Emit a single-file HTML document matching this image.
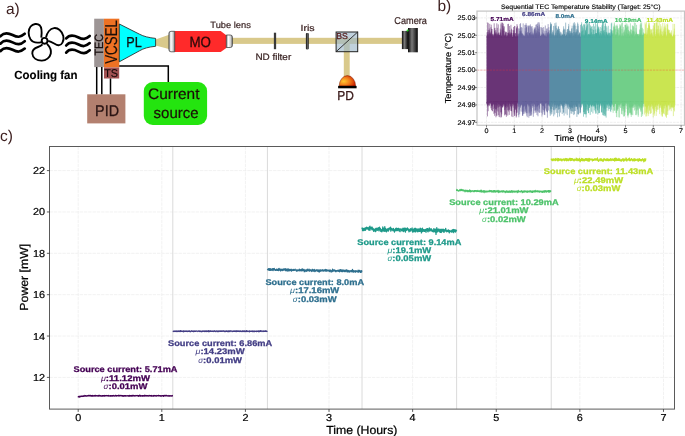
<!DOCTYPE html>
<html><head><meta charset="utf-8"><title>figure</title>
<style>html,body{margin:0;padding:0;background:#fff;overflow:hidden;width:685px;height:436px}svg{display:block;will-change:transform}text{font-family:"Liberation Sans",sans-serif;text-rendering:geometricPrecision}</style>
</head><body>
<svg width="685" height="436" viewBox="0 0 685 436">
<defs>
<linearGradient id="silv" x1="0" y1="0" x2="1" y2="0"><stop offset="0" stop-color="#8c8c8c"/><stop offset="0.35" stop-color="#ffffff"/><stop offset="0.7" stop-color="#d2d2d2"/><stop offset="1" stop-color="#7a7a7a"/></linearGradient>
<linearGradient id="cam" x1="0" y1="0" x2="1" y2="0"><stop offset="0" stop-color="#080808"/><stop offset="0.4" stop-color="#7a7a7a"/><stop offset="1" stop-color="#050505"/></linearGradient>
<linearGradient id="bar" x1="0" y1="0" x2="1" y2="0"><stop offset="0" stop-color="#000"/><stop offset="0.5" stop-color="#6a6a6a"/><stop offset="1" stop-color="#000"/></linearGradient>
<radialGradient id="pd" cx="0.28" cy="0.55" r="0.85"><stop offset="0" stop-color="#ffc830"/><stop offset="0.45" stop-color="#f07a18"/><stop offset="0.9" stop-color="#c81a00"/></radialGradient>
</defs>
<rect width="685" height="436" fill="#fff"/>
<text x="6.00" y="13.80" font-size="15.50" fill="#3b1d1d">a)</text>
<path d="M0.5,36.2 C3.4,32.8 7.8,32.6 12.6,35.0 S20.3,37.6 24.7,33.8" fill="none" stroke="#000" stroke-width="2.7" stroke-linecap="round"/>
<path d="M66.2,38.4 C69.0,35.0 73.2,34.8 78.0,37.2 S85.5,39.8 89.7,36.0" fill="none" stroke="#000" stroke-width="2.7" stroke-linecap="round"/>
<path d="M0.5,43.6 C3.4,40.2 7.8,40.0 12.6,42.4 S20.3,45.0 24.7,41.2" fill="none" stroke="#000" stroke-width="2.7" stroke-linecap="round"/>
<path d="M66.2,45.5 C69.0,42.1 73.2,41.9 78.0,44.3 S85.5,46.9 89.7,43.1" fill="none" stroke="#000" stroke-width="2.7" stroke-linecap="round"/>
<path d="M0.5,51.0 C3.4,47.6 7.8,47.4 12.6,49.8 S20.3,52.4 24.7,48.6" fill="none" stroke="#000" stroke-width="2.7" stroke-linecap="round"/>
<path d="M66.2,52.6 C69.0,49.2 73.2,49.0 78.0,51.4 S85.5,54.0 89.7,50.2" fill="none" stroke="#000" stroke-width="2.7" stroke-linecap="round"/>
<g fill="none" stroke="#000" stroke-width="1.9" stroke-linejoin="round">
<path d="M41.3,37.6 C41.9,33 41.9,27.5 39.6,25.2 C37.5,23.2 33,23.6 30.6,26.5 C28.1,29.5 27.9,35 30.5,39.3 C32.5,42.4 37,43.2 41.6,42.1"/>
<path d="M46,37.4 C47,33 50,28.6 54,28.1 C58,27.6 62,31 63.3,36 C64.5,41 61.5,45.5 58.5,45.3 C55.5,45 53,42 48.2,40.8"/>
<path d="M47,43.9 C49.5,46.5 51.5,50 50.8,53.5 C50,57.5 46,60.8 41.5,60.6 C37,60.4 32.6,58 32.3,53.5 C32.1,50 35,48 38,47 C40,46.3 41.5,45.6 42.5,44.4"/>
<circle cx="44.6" cy="40.8" r="2.9" fill="#fff"/>
</g>
<text x="14.30" y="78.90" font-size="11.90" fill="#000" font-weight="bold" stroke="#000" stroke-width="0.12" textLength="63.20" lengthAdjust="spacingAndGlyphs">Cooling fan</text>
<polygon points="155.6,39.6 169.8,34.4 169.8,49.3 155.6,45.4" fill="#d9c98b"/>
<rect x="232" y="37.8" width="170.5" height="6.1" fill="#d9c98b"/>
<rect x="343.8" y="41" width="5.9" height="36" fill="#d9c98b"/>
<rect x="94.2" y="18.7" width="9.7" height="48.4" fill="#9d9595"/>
<rect x="103.9" y="18.7" width="15.4" height="48.8" fill="#ee7224"/>
<rect x="104" y="67.5" width="15.2" height="11" fill="#a15253"/>
<text x="103.20" y="55.40" font-size="12.00" fill="#1a1010" stroke="#1a1010" stroke-width="0.30" textLength="21.40" lengthAdjust="spacingAndGlyphs" transform="rotate(-90 103.20 55.40)">TEC</text>
<text x="117.20" y="63.80" font-size="17.20" fill="#1a0e08" stroke="#1a0e08" stroke-width="0.15" textLength="43.80" lengthAdjust="spacingAndGlyphs" transform="rotate(-90 117.20 63.80)">VCSEL</text>
<text x="104.20" y="76.70" font-size="11.30" fill="#140808" stroke="#140808" stroke-width="0.12" textLength="13.80" lengthAdjust="spacingAndGlyphs">TS</text>
<g stroke="#000" stroke-width="1.5" fill="none">
<path d="M96.7,67 V94.5 M101.8,67 V94.5 M110.5,78.5 V94.5"/>
<path d="M119.2,66.1 H168.3 V82.2"/>
</g>
<path d="M119.3,24 L139.5,34.2 Q145.5,37.4 155.6,38.4 L155.6,46.3 Q145.5,47.2 139.5,50.8 L119.3,61.8 Z" fill="#00ffff" stroke="#1a1a1a" stroke-width="0.8" stroke-linejoin="round"/>
<text x="126.20" y="46.90" font-size="14.40" fill="#111" stroke="#111" stroke-width="0.30" textLength="15.50" lengthAdjust="spacingAndGlyphs">PL</text>
<rect x="87.2" y="94.3" width="38.2" height="29.1" fill="#b3806f"/>
<text x="95.10" y="115.60" font-size="15.50" fill="#2a1414" stroke="#2a1414" stroke-width="0.30" textLength="23.90" lengthAdjust="spacingAndGlyphs">PID</text>
<rect x="143.8" y="82" width="63.3" height="43" rx="9" ry="9" fill="#24e40f"/>
<text x="148.00" y="99.20" font-size="15.20" fill="#1c0e08" stroke="#1c0e08" stroke-width="0.20" textLength="51.50" lengthAdjust="spacingAndGlyphs">Current</text>
<text x="153.60" y="117.60" font-size="15.20" fill="#1c0e08" stroke="#1c0e08" stroke-width="0.20" textLength="45.00" lengthAdjust="spacingAndGlyphs">source</text>
<path d="M174.7,31 H220.7 L226.3,35.2 V48 L220.7,52.1 H174.7 Z" fill="#ff2a2a"/>
<path d="M171,31.3 H174.7 V51.8 H171 Q168.9,51.8 168.9,49.7 V33.4 Q168.9,31.3 171,31.3 Z" fill="url(#silv)" stroke="#333" stroke-width="0.7"/>
<path d="M226.3,35 H230.3 Q232.4,35 232.4,37.1 V45.4 Q232.4,47.5 230.3,47.5 H226.3 Z" fill="url(#silv)" stroke="#333" stroke-width="0.7"/>
<text x="189.40" y="47.30" font-size="14.80" fill="#2a0a0a" stroke="#2a0a0a" stroke-width="0.30" textLength="21.50" lengthAdjust="spacingAndGlyphs">MO</text>
<text x="210.30" y="27.90" font-size="9.00" fill="#3a2424" stroke="#3a2424" stroke-width="0.20" textLength="40.60" lengthAdjust="spacingAndGlyphs">Tube lens</text>
<rect x="273.9" y="32.7" width="2.2" height="16.5" fill="url(#bar)"/>
<text x="255.40" y="60.20" font-size="9.30" fill="#3a2424" stroke="#3a2424" stroke-width="0.20" textLength="35.80" lengthAdjust="spacingAndGlyphs">ND filter</text>
<rect x="305.9" y="33.1" width="2.8" height="16.3" rx="0.8" fill="url(#bar)"/>
<text x="300.50" y="30.50" font-size="8.90" fill="#3a2020" stroke="#3a2020" stroke-width="0.20" textLength="14.20" lengthAdjust="spacingAndGlyphs">Iris</text>
<rect x="336.1" y="32" width="21.6" height="19.7" fill="#9fb9cc" fill-opacity="0.66" stroke="#222" stroke-width="1.0"/>
<path d="M336.1,51.7 L357.7,32" stroke="#222" stroke-width="0.9"/>
<text x="336.30" y="39.30" font-size="8.60" fill="#5a2222" stroke="#5a2222" stroke-width="0.30" textLength="11.60" lengthAdjust="spacingAndGlyphs">BS</text>
<rect x="401.9" y="30.9" width="6.3" height="18.2" fill="url(#cam)"/>
<rect x="408" y="28" width="9.8" height="24.3" fill="url(#cam)"/>
<circle cx="407.6" cy="30.6" r="1.0" fill="#22dd22"/>
<text x="394.30" y="23.90" font-size="10.00" fill="#3a2424" stroke="#3a2424" stroke-width="0.20" textLength="32.60" lengthAdjust="spacingAndGlyphs">Camera</text>
<path d="M339.2,86 A8.2,10.4 0 0 1 355.6,86 Z" fill="url(#pd)" stroke="#7a1a00" stroke-width="0.5"/>
<rect x="338.1" y="85.9" width="18.5" height="2.4" fill="#000"/>
<text x="337.20" y="100.20" font-size="13.00" fill="#3a1a1a" stroke="#3a1a1a" stroke-width="0.30" textLength="16.60" lengthAdjust="spacingAndGlyphs">PD</text>
<text x="437.40" y="10.60" font-size="15.50" fill="#3b1d1d">b)</text>
<path d="M486.50,11.10V125.30M514.30,11.10V125.30M542.10,11.10V125.30M569.90,11.10V125.30M597.70,11.10V125.30M625.50,11.10V125.30M653.30,11.10V125.30M681.10,11.10V125.30M477.00,122.30H684.50M477.00,104.90H684.50M477.00,87.50H684.50M477.00,70.10H684.50M477.00,52.70H684.50M477.00,35.30H684.50M477.00,17.90H684.50" stroke="#e2e2e2" stroke-opacity="1" stroke-width="0.6" stroke-dasharray="2.6,0.9" fill="none"/>
<polygon points="486.50,36.5 487.00,34.7 487.50,34.1 488.00,36.8 488.50,36.4 489.00,31.8 489.50,36.7 490.00,36.5 490.49,31.7 490.99,34.0 491.49,35.4 491.99,34.6 492.49,33.7 492.99,35.9 493.49,36.5 493.99,32.9 494.49,33.7 494.99,34.6 495.49,32.7 495.99,34.4 496.49,31.4 496.99,36.2 497.48,34.4 497.98,34.8 498.48,35.5 498.98,34.2 499.48,36.1 499.98,32.8 500.48,32.3 500.98,36.5 501.48,34.9 501.98,35.9 502.48,36.6 502.98,32.1 503.48,35.1 503.98,36.4 504.48,33.6 504.97,36.2 505.47,32.0 505.97,36.2 506.47,36.8 506.97,36.2 507.47,35.6 507.97,34.9 508.47,32.0 508.97,33.5 509.47,35.6 509.97,36.8 510.47,36.4 510.97,31.3 511.47,34.9 511.96,33.5 512.46,36.7 512.96,36.8 513.46,32.4 513.96,34.2 514.46,35.7 514.96,35.7 515.46,36.6 515.96,36.3 516.46,36.8 516.96,32.5 517.46,34.9 517.96,36.5 518.46,33.2 518.46,104.3 517.96,103.9 517.46,103.1 516.96,104.1 516.46,105.8 515.96,103.9 515.46,105.7 514.96,105.2 514.46,103.1 513.96,102.9 513.46,103.5 512.96,105.6 512.46,103.0 511.96,104.9 511.47,103.2 510.97,105.7 510.47,107.3 509.97,102.9 509.47,104.1 508.97,103.6 508.47,103.2 507.97,108.3 507.47,103.2 506.97,104.1 506.47,102.9 505.97,106.5 505.47,107.5 504.97,106.7 504.48,104.6 503.98,103.2 503.48,105.7 502.98,103.2 502.48,107.7 501.98,106.7 501.48,106.1 500.98,105.9 500.48,105.2 499.98,106.4 499.48,107.1 498.98,103.6 498.48,104.3 497.98,102.9 497.48,102.9 496.99,106.5 496.49,103.9 495.99,104.5 495.49,104.0 494.99,107.9 494.49,108.1 493.99,103.6 493.49,103.9 492.99,103.4 492.49,107.2 491.99,104.8 491.49,106.3 490.99,103.8 490.49,102.8 490.00,103.0 489.50,103.3 489.00,106.9 488.50,102.8 488.00,107.5 487.50,105.5 487.00,102.9 486.50,103.4" fill="#693476"/>
<path d="M514.96,37.8V33.3M490.37,37.8V35.2M489.46,37.8V30.3M504.13,37.8V35.6M516.53,37.8V28.8M514.79,37.8V26.0M508.41,37.8V23.8M488.86,37.8V32.2M511.68,37.8V35.4M507.89,37.8V24.0M491.24,37.8V24.7M501.15,37.8V22.6M488.32,37.8V30.0M511.54,37.8V28.7M508.97,37.8V33.2M511.63,37.8V35.0M510.26,37.8V34.1M495.05,37.8V27.8M511.17,37.8V33.7M494.49,37.8V28.3M491.05,37.8V31.5M498.85,37.8V32.2M502.16,37.8V22.6M495.62,37.8V35.1M505.49,37.8V31.7M505.39,37.8V35.2M494.20,37.8V23.3M506.01,37.8V31.7M497.82,37.8V33.7M509.47,37.8V35.1M495.76,37.8V30.0M511.45,37.8V32.9M499.61,37.8V35.4M503.87,37.8V35.8M507.58,37.8V33.0M502.79,37.8V30.2M494.75,37.8V31.2M517.02,37.8V24.1M489.76,37.8V23.8M496.83,37.8V23.3M503.74,37.8V26.2M487.69,37.8V31.8M491.58,37.8V31.1M511.46,37.8V32.9M510.99,37.8V32.9M506.45,37.8V35.7M514.63,37.8V26.2M510.11,37.8V34.5M496.02,37.8V35.8M506.70,37.8V32.0M497.29,37.8V27.8M509.94,37.8V32.4M498.67,37.8V33.3M491.53,37.8V28.9M513.84,37.8V35.2M508.10,37.8V35.8M509.78,37.8V30.1M504.07,37.8V31.0M510.96,37.8V24.8M500.62,37.8V32.6M504.26,37.8V26.5M488.73,37.8V35.8M503.93,37.8V35.8M511.94,37.8V29.9M508.57,37.8V34.7M511.58,37.8V35.7M502.11,37.8V35.4M513.99,37.8V33.2M490.14,37.8V33.6M513.82,37.8V30.5M498.26,37.8V24.4M489.61,37.8V33.3M505.91,37.8V35.0M500.84,37.8V30.3M500.02,37.8V35.8M513.09,37.8V33.0M491.05,37.8V33.8M505.84,37.8V33.0M499.57,37.8V35.7M503.10,37.8V30.7M502.21,37.8V29.5M490.94,37.8V27.2M502.60,37.8V22.8M513.40,37.8V33.4M492.08,37.8V29.0M487.15,37.8V32.3M488.88,37.8V34.8M500.99,37.8V24.3M516.87,37.8V27.3M488.16,37.8V23.1M517.38,37.8V25.8M503.34,37.8V23.7M490.51,37.8V35.4M499.71,37.8V35.8M493.20,37.8V34.9M508.84,37.8V32.7M503.51,37.8V28.4M495.69,37.8V32.4M494.68,37.8V31.3M513.55,37.8V27.0M510.44,37.8V35.6M500.26,37.8V28.6M499.31,37.8V35.7M509.56,37.8V34.5M516.75,37.8V27.7M489.26,37.8V28.5M491.71,37.8V32.8M497.98,37.8V34.0M502.47,37.8V25.6M489.00,37.8V34.2M488.45,37.8V35.8M493.57,37.8V34.5M498.71,37.8V35.8M509.61,37.8V26.0M505.62,37.8V35.4M487.70,37.8V22.4M488.19,37.8V34.8M500.75,37.8V33.9M513.79,37.8V30.2M515.03,37.8V33.9M498.07,37.8V33.1M514.18,37.8V35.5M515.47,37.8V33.0M499.35,37.8V35.8M509.82,37.8V34.7M514.86,101.8V115.6M495.46,101.8V109.4M495.16,101.8V113.1M507.76,101.8V115.6M514.04,101.8V105.9M495.93,101.8V117.3M498.41,101.8V107.4M508.85,101.8V104.4M511.24,101.8V108.6M505.74,101.8V109.6M492.32,101.8V111.3M492.38,101.8V110.9M510.19,101.8V103.9M508.61,101.8V110.3M514.46,101.8V116.0M510.86,101.8V110.9M499.80,101.8V117.2M490.91,101.8V108.3M514.28,101.8V113.6M508.26,101.8V104.3M504.58,101.8V115.4M507.84,101.8V107.2M498.68,101.8V115.0M497.39,101.8V105.8M504.56,101.8V110.1M501.70,101.8V114.3M508.68,101.8V111.6M515.68,101.8V110.0M512.94,101.8V117.1M498.76,101.8V104.0M498.29,101.8V104.1M515.40,101.8V108.9M498.98,101.8V116.7M511.49,101.8V111.2M489.66,101.8V105.7M500.72,101.8V104.1M502.73,101.8V107.4M511.76,101.8V107.8M513.88,101.8V107.7M491.51,101.8V110.0M505.84,101.8V105.3M506.21,101.8V115.1M491.48,101.8V105.5M512.52,101.8V104.1M503.88,101.8V106.1M516.47,101.8V116.3M492.55,101.8V104.4M503.00,101.8V105.4M496.78,101.8V116.1M506.62,101.8V106.1M505.56,101.8V114.3M502.61,101.8V103.9M496.82,101.8V115.3M502.35,101.8V105.0M498.29,101.8V104.6M514.29,101.8V112.2M501.04,101.8V117.6M501.46,101.8V116.8M494.78,101.8V112.4M494.63,101.8V115.8M516.23,101.8V117.5M496.49,101.8V108.9M513.59,101.8V104.3M505.15,101.8V114.4M517.05,101.8V106.7M491.86,101.8V105.7M515.85,101.8V108.1M510.64,101.8V103.8M504.33,101.8V103.8M508.67,101.8V105.3M509.09,101.8V109.6M500.64,101.8V112.4M506.38,101.8V116.8M493.85,101.8V113.8M487.46,101.8V116.4M507.67,101.8V110.3M501.44,101.8V112.1M514.74,101.8V109.5M494.95,101.8V104.0M512.04,101.8V103.9M517.23,101.8V112.6M514.51,101.8V104.7M516.56,101.8V113.2M491.71,101.8V107.6M491.89,101.8V103.8M493.84,101.8V109.0M497.95,101.8V107.3M490.36,101.8V104.0M491.45,101.8V105.2M487.37,101.8V105.7M515.60,101.8V106.1M497.94,101.8V111.6M506.12,101.8V104.5M500.83,101.8V107.3M509.73,101.8V109.8M511.67,101.8V116.5M498.62,101.8V104.2M503.32,101.8V104.0M489.81,101.8V104.6M495.61,101.8V104.9M493.67,101.8V104.4M496.32,101.8V104.0M496.81,101.8V104.8M504.54,101.8V104.9M497.07,101.8V107.8M496.89,101.8V110.5M512.45,101.8V106.3M487.17,101.8V104.5M486.96,101.8V104.1M488.56,101.8V105.2M513.51,101.8V104.5M506.35,101.8V107.8M509.26,101.8V114.9M516.35,101.8V111.7M493.53,101.8V104.7M515.19,101.8V103.8M494.29,101.8V103.9M502.81,101.8V107.2M507.81,101.8V106.3M511.40,101.8V111.1M494.46,101.8V104.0M501.52,101.8V105.2M488.21,101.8V111.2M495.68,101.8V109.2M517.07,101.8V108.4" stroke="#693476" stroke-width="0.55" fill="none"/>
<polygon points="517.96,32.0 518.46,36.5 518.95,36.2 519.45,34.3 519.95,34.3 520.45,31.5 520.95,31.5 521.45,34.2 521.95,33.1 522.45,33.5 522.95,36.5 523.45,34.1 523.95,35.8 524.45,35.5 524.95,36.4 525.45,36.8 525.94,32.4 526.44,33.3 526.94,33.1 527.44,35.8 527.94,35.2 528.44,36.3 528.94,34.1 529.44,32.5 529.94,32.9 530.44,31.8 530.94,36.0 531.44,33.5 531.94,36.5 532.44,34.5 532.93,36.5 533.43,34.5 533.93,34.5 534.43,35.6 534.93,35.5 535.43,33.4 535.93,34.8 536.43,35.2 536.93,36.5 537.43,35.9 537.93,32.4 538.43,31.5 538.93,35.4 539.43,32.3 539.93,32.2 540.42,36.1 540.92,35.9 541.42,33.5 541.92,35.8 542.42,31.6 542.92,35.5 543.42,33.3 543.92,33.4 544.42,36.2 544.92,32.3 545.42,35.6 545.92,36.5 546.42,36.7 546.92,35.0 547.41,33.9 547.91,35.9 548.41,32.5 548.91,35.9 549.41,32.4 549.91,36.8 549.91,103.5 549.41,106.4 548.91,103.7 548.41,106.6 547.91,104.3 547.41,103.0 546.92,102.9 546.42,103.0 545.92,104.4 545.42,103.0 544.92,104.3 544.42,103.0 543.92,107.0 543.42,105.4 542.92,105.4 542.42,105.7 541.92,103.6 541.42,103.3 540.92,102.9 540.42,103.1 539.93,103.1 539.43,104.3 538.93,105.4 538.43,104.0 537.93,105.3 537.43,106.5 536.93,107.6 536.43,103.1 535.93,105.3 535.43,106.9 534.93,105.1 534.43,103.4 533.93,106.6 533.43,103.8 532.93,102.8 532.44,106.3 531.94,106.0 531.44,102.9 530.94,104.2 530.44,103.5 529.94,105.1 529.44,106.9 528.94,103.6 528.44,107.4 527.94,104.5 527.44,103.5 526.94,106.8 526.44,106.6 525.94,107.6 525.45,103.7 524.95,104.5 524.45,105.6 523.95,107.7 523.45,106.4 522.95,104.9 522.45,106.9 521.95,104.3 521.45,105.5 520.95,105.4 520.45,107.2 519.95,104.3 519.45,104.1 518.95,104.6 518.46,103.2 517.96,103.6" fill="#69659d"/>
<path d="M527.12,37.8V35.8M532.80,37.8V34.5M520.57,37.8V23.1M532.11,37.8V26.1M536.26,37.8V32.5M543.70,37.8V27.0M519.99,37.8V24.0M542.94,37.8V34.0M535.83,37.8V24.7M536.10,37.8V34.3M519.83,37.8V33.7M545.41,37.8V35.7M526.81,37.8V35.2M535.12,37.8V30.7M534.88,37.8V35.8M546.34,37.8V30.8M536.81,37.8V35.1M548.84,37.8V27.2M525.42,37.8V35.4M538.69,37.8V34.8M536.05,37.8V34.3M534.10,37.8V30.2M537.62,37.8V26.0M535.24,37.8V27.2M528.65,37.8V27.4M538.05,37.8V28.5M520.83,37.8V30.8M533.04,37.8V33.5M532.23,37.8V35.0M524.84,37.8V24.9M535.78,37.8V32.7M538.93,37.8V29.1M522.11,37.8V35.7M527.42,37.8V33.3M520.17,37.8V35.5M536.68,37.8V33.4M520.78,37.8V27.5M525.33,37.8V33.6M532.07,37.8V28.5M532.19,37.8V35.4M519.27,37.8V33.0M547.49,37.8V32.7M525.35,37.8V31.4M537.08,37.8V34.7M525.11,37.8V28.2M536.64,37.8V24.5M529.14,37.8V26.0M528.09,37.8V35.8M532.89,37.8V31.7M536.35,37.8V33.5M536.71,37.8V30.4M539.50,37.8V35.6M526.54,37.8V27.6M521.08,37.8V32.6M526.07,37.8V23.1M528.34,37.8V35.8M537.00,37.8V32.6M531.04,37.8V31.7M527.86,37.8V25.6M521.29,37.8V27.1M536.67,37.8V35.0M521.65,37.8V33.9M534.20,37.8V27.5M539.50,37.8V32.6M537.48,37.8V34.4M523.18,37.8V23.4M529.24,37.8V25.3M547.29,37.8V33.4M521.06,37.8V30.7M539.20,37.8V23.4M531.72,37.8V34.8M537.19,37.8V23.9M530.40,37.8V24.4M522.08,37.8V27.7M535.61,37.8V28.4M518.44,37.8V28.4M544.92,37.8V30.8M542.90,37.8V30.2M529.79,37.8V34.9M534.84,37.8V30.5M534.53,37.8V28.7M548.48,37.8V31.7M519.60,37.8V28.5M527.44,37.8V32.1M530.81,37.8V26.1M542.55,37.8V27.8M540.78,37.8V35.6M531.32,37.8V26.8M518.62,37.8V34.1M538.25,37.8V35.6M530.81,37.8V35.4M521.86,37.8V33.7M537.73,37.8V31.1M531.98,37.8V33.7M527.71,37.8V34.9M526.56,37.8V26.8M534.33,37.8V33.2M525.90,37.8V24.7M530.39,37.8V34.5M547.32,37.8V28.4M533.00,37.8V33.4M526.08,37.8V25.2M534.34,37.8V29.1M546.56,37.8V28.6M544.98,37.8V35.6M539.15,37.8V27.2M546.00,37.8V33.4M541.60,37.8V27.4M539.24,37.8V25.3M531.46,37.8V35.4M522.87,37.8V35.8M540.84,37.8V27.1M537.83,37.8V22.5M548.12,37.8V24.1M528.16,37.8V32.4M545.31,37.8V25.5M525.00,37.8V35.8M547.45,37.8V35.7M548.98,37.8V30.2M519.71,37.8V31.1M528.27,37.8V25.7M549.06,37.8V34.6M548.13,37.8V32.0M538.95,37.8V22.0M522.41,37.8V34.0M530.74,101.8V115.9M537.00,101.8V115.1M548.96,101.8V104.2M523.89,101.8V111.7M539.58,101.8V112.9M531.04,101.8V115.7M530.62,101.8V107.0M526.18,101.8V104.4M532.62,101.8V107.7M535.99,101.8V106.4M530.36,101.8V106.7M533.86,101.8V113.4M537.88,101.8V110.6M544.54,101.8V111.1M535.57,101.8V110.6M530.06,101.8V104.3M547.92,101.8V103.9M523.58,101.8V106.7M519.66,101.8V114.4M546.28,101.8V110.5M526.46,101.8V113.2M522.93,101.8V110.1M530.14,101.8V113.1M528.84,101.8V117.7M529.20,101.8V111.7M544.52,101.8V114.7M527.22,101.8V117.2M522.35,101.8V112.2M524.91,101.8V113.6M547.56,101.8V104.0M531.49,101.8V103.9M529.39,101.8V116.0M542.24,101.8V105.0M547.12,101.8V105.7M534.00,101.8V104.3M543.39,101.8V110.3M526.42,101.8V103.8M529.07,101.8V113.4M536.04,101.8V105.6M525.55,101.8V112.3M526.75,101.8V115.7M524.04,101.8V111.3M526.35,101.8V107.1M544.15,101.8V110.1M542.78,101.8V114.5M521.77,101.8V111.6M529.02,101.8V105.1M540.54,101.8V103.8M544.78,101.8V115.1M535.54,101.8V110.1M540.68,101.8V103.9M525.58,101.8V108.9M542.38,101.8V109.5M543.58,101.8V105.5M530.81,101.8V115.2M525.53,101.8V105.0M519.28,101.8V104.3M537.68,101.8V105.7M537.77,101.8V106.0M518.29,101.8V115.2M534.31,101.8V110.7M547.21,101.8V104.2M519.15,101.8V106.7M522.50,101.8V104.1M520.04,101.8V111.5M531.73,101.8V114.5M530.13,101.8V104.0M545.11,101.8V108.1M520.31,101.8V105.1M524.44,101.8V105.5M547.20,101.8V112.3M518.84,101.8V117.3M526.25,101.8V105.4M530.42,101.8V108.8M518.27,101.8V105.7M527.12,101.8V103.9M536.86,101.8V109.7M537.24,101.8V104.4M537.04,101.8V111.2M538.34,101.8V112.3M537.22,101.8V104.3M519.32,101.8V109.6M538.46,101.8V104.8M536.27,101.8V112.6M524.97,101.8V105.5M531.20,101.8V111.2M525.59,101.8V110.5M545.04,101.8V109.3M526.86,101.8V104.8M523.28,101.8V114.1M542.84,101.8V106.2M541.74,101.8V112.8M544.55,101.8V107.7M539.16,101.8V107.4M531.12,101.8V111.7M532.93,101.8V106.0M535.39,101.8V112.6M536.65,101.8V107.3M547.42,101.8V112.2M526.45,101.8V111.4M541.97,101.8V116.5M518.78,101.8V106.9M524.13,101.8V106.1M547.40,101.8V117.7M526.00,101.8V108.4M534.02,101.8V107.0M546.53,101.8V111.4M538.45,101.8V105.1M533.33,101.8V116.8M539.91,101.8V112.5M548.44,101.8V110.5M547.30,101.8V105.5M523.85,101.8V113.6M522.58,101.8V115.9M527.14,101.8V113.2M522.73,101.8V115.8M541.83,101.8V104.0M543.98,101.8V112.2M522.60,101.8V114.8M520.51,101.8V107.8M528.25,101.8V104.0M539.45,101.8V108.8M542.02,101.8V105.1M532.47,101.8V103.8M537.97,101.8V116.3" stroke="#69659d" stroke-width="0.55" fill="none"/>
<polygon points="549.41,32.5 549.91,33.9 550.41,33.1 550.91,33.7 551.41,34.9 551.91,36.5 552.41,35.8 552.91,34.7 553.41,34.2 553.91,35.8 554.40,36.5 554.90,35.6 555.40,36.3 555.90,31.8 556.40,36.1 556.90,35.3 557.40,34.5 557.90,36.0 558.40,34.7 558.90,34.4 559.40,36.7 559.90,31.7 560.40,34.5 560.90,36.4 561.39,31.4 561.89,36.3 562.39,33.3 562.89,34.8 563.39,36.0 563.89,35.4 564.39,34.8 564.89,35.4 565.39,36.0 565.89,35.2 566.39,35.1 566.89,33.5 567.39,36.2 567.89,36.7 568.39,32.5 568.88,36.7 569.38,33.9 569.88,34.4 570.38,31.5 570.88,36.3 571.38,32.1 571.88,36.5 572.38,36.3 572.88,33.8 573.38,36.4 573.88,34.2 574.38,33.6 574.88,36.5 575.38,32.8 575.87,35.2 576.37,31.6 576.87,36.8 577.37,36.6 577.87,34.0 578.37,36.0 578.87,35.3 579.37,32.0 579.87,35.6 580.37,36.7 580.87,36.4 581.37,34.4 581.37,107.7 580.87,107.2 580.37,103.2 579.87,104.3 579.37,102.9 578.87,106.4 578.37,102.9 577.87,104.5 577.37,103.5 576.87,106.5 576.37,106.9 575.87,107.3 575.38,104.3 574.88,104.7 574.38,104.0 573.88,104.4 573.38,107.5 572.88,102.8 572.38,108.0 571.88,103.8 571.38,106.4 570.88,107.7 570.38,106.6 569.88,106.8 569.38,107.6 568.88,104.2 568.39,104.5 567.89,107.8 567.39,103.5 566.89,104.6 566.39,103.7 565.89,103.6 565.39,103.1 564.89,103.0 564.39,105.7 563.89,104.3 563.39,108.2 562.89,106.0 562.39,106.5 561.89,104.6 561.39,104.5 560.90,106.9 560.40,103.2 559.90,104.5 559.40,106.4 558.90,105.8 558.40,106.0 557.90,104.6 557.40,107.1 556.90,103.6 556.40,107.9 555.90,108.1 555.40,102.8 554.90,104.6 554.40,105.7 553.91,103.1 553.41,104.4 552.91,107.6 552.41,103.4 551.91,103.5 551.41,103.1 550.91,103.5 550.41,104.7 549.91,106.5 549.41,106.6" fill="#588ca5"/>
<path d="M558.64,37.8V34.9M576.63,37.8V31.6M555.20,37.8V26.2M571.65,37.8V33.1M557.45,37.8V32.9M563.46,37.8V35.8M568.56,37.8V26.3M560.55,37.8V32.2M555.82,37.8V33.1M567.85,37.8V29.0M574.21,37.8V25.1M580.44,37.8V24.8M559.66,37.8V33.5M557.66,37.8V29.8M552.07,37.8V33.0M556.03,37.8V25.4M550.51,37.8V26.4M557.42,37.8V28.9M572.11,37.8V25.7M553.25,37.8V31.3M569.65,37.8V30.4M558.81,37.8V35.2M556.77,37.8V28.0M564.63,37.8V34.1M563.17,37.8V30.5M563.50,37.8V35.8M553.34,37.8V32.9M567.13,37.8V29.7M577.55,37.8V29.4M550.00,37.8V30.5M552.21,37.8V34.5M567.79,37.8V29.0M559.54,37.8V28.9M557.48,37.8V30.1M580.20,37.8V33.1M559.22,37.8V35.2M578.13,37.8V30.6M568.74,37.8V35.7M550.65,37.8V23.7M557.92,37.8V33.4M552.05,37.8V34.2M566.31,37.8V32.2M577.74,37.8V35.5M551.34,37.8V24.4M550.58,37.8V22.3M550.62,37.8V25.7M558.13,37.8V30.4M554.84,37.8V23.2M579.59,37.8V33.7M573.63,37.8V32.0M578.69,37.8V35.1M567.60,37.8V32.5M575.05,37.8V23.5M571.58,37.8V28.8M558.72,37.8V30.8M569.85,37.8V31.0M558.64,37.8V29.3M564.04,37.8V29.8M575.10,37.8V32.2M556.52,37.8V31.3M555.11,37.8V35.5M575.99,37.8V32.3M564.00,37.8V28.6M555.07,37.8V34.7M559.52,37.8V34.2M558.37,37.8V26.1M577.36,37.8V35.3M564.30,37.8V34.9M578.10,37.8V25.8M564.22,37.8V35.4M578.70,37.8V34.0M577.99,37.8V23.9M567.22,37.8V32.7M573.98,37.8V25.9M558.57,37.8V26.9M553.27,37.8V35.8M568.36,37.8V34.7M551.41,37.8V23.8M564.14,37.8V33.8M568.84,37.8V32.8M573.40,37.8V23.3M577.38,37.8V35.5M556.01,37.8V22.5M576.42,37.8V29.1M565.02,37.8V29.4M568.93,37.8V35.8M563.97,37.8V29.4M575.87,37.8V25.8M558.97,37.8V32.9M549.96,37.8V35.6M575.30,37.8V35.4M570.13,37.8V35.6M571.82,37.8V32.7M553.54,37.8V25.9M556.07,37.8V35.7M569.01,37.8V32.8M572.77,37.8V32.8M570.11,37.8V32.9M568.10,37.8V31.1M569.92,37.8V31.0M554.27,37.8V34.9M563.62,37.8V26.3M559.88,37.8V31.2M572.43,37.8V33.4M565.68,37.8V22.6M571.93,37.8V28.1M571.15,37.8V35.2M577.64,37.8V22.5M576.13,37.8V30.3M551.30,37.8V33.6M570.31,37.8V34.6M561.24,37.8V35.7M552.82,37.8V34.5M564.47,37.8V34.1M575.73,37.8V33.5M574.29,37.8V22.1M552.98,37.8V30.1M555.95,37.8V35.0M571.15,37.8V33.2M579.59,37.8V32.4M552.09,37.8V35.6M552.45,37.8V31.9M571.18,37.8V31.4M568.72,37.8V23.9M574.74,37.8V32.4M570.96,101.8V107.2M570.68,101.8V108.5M555.11,101.8V108.8M567.21,101.8V115.2M563.57,101.8V103.9M554.73,101.8V114.5M550.45,101.8V108.4M580.44,101.8V112.0M552.50,101.8V106.9M577.07,101.8V105.6M561.02,101.8V106.0M552.23,101.8V105.4M579.48,101.8V107.5M570.08,101.8V109.6M562.19,101.8V114.0M575.57,101.8V104.5M571.55,101.8V107.4M562.53,101.8V108.6M571.86,101.8V113.8M572.48,101.8V111.6M555.02,101.8V110.1M571.82,101.8V111.0M577.99,101.8V107.4M570.93,101.8V113.5M574.38,101.8V114.2M580.26,101.8V109.1M574.28,101.8V104.2M564.21,101.8V107.1M567.06,101.8V105.3M573.37,101.8V104.6M569.22,101.8V105.6M551.90,101.8V113.8M551.57,101.8V106.1M558.12,101.8V107.1M574.96,101.8V106.5M556.55,101.8V104.6M559.55,101.8V109.2M575.11,101.8V107.0M553.69,101.8V116.3M558.35,101.8V110.0M557.62,101.8V117.3M551.17,101.8V114.6M572.63,101.8V108.0M559.60,101.8V103.8M562.29,101.8V104.8M559.99,101.8V104.2M551.74,101.8V112.1M575.78,101.8V104.3M553.86,101.8V110.4M558.52,101.8V105.8M571.95,101.8V107.8M560.46,101.8V112.5M565.35,101.8V105.6M559.90,101.8V104.5M567.00,101.8V105.5M559.50,101.8V116.5M563.79,101.8V108.9M549.99,101.8V105.5M550.18,101.8V104.3M565.35,101.8V103.9M574.92,101.8V106.0M580.52,101.8V109.9M574.49,101.8V107.5M565.89,101.8V113.6M569.59,101.8V117.7M570.43,101.8V109.2M572.22,101.8V106.1M580.32,101.8V113.3M560.32,101.8V104.0M563.48,101.8V112.6M573.75,101.8V115.1M556.38,101.8V112.9M552.67,101.8V104.1M577.45,101.8V109.4M550.20,101.8V113.4M577.29,101.8V106.9M577.94,101.8V114.3M554.82,101.8V104.5M573.01,101.8V108.5M558.62,101.8V109.0M558.08,101.8V113.1M580.06,101.8V106.9M577.08,101.8V105.2M573.30,101.8V111.7M563.17,101.8V104.2M580.13,101.8V106.4M567.31,101.8V107.7M579.95,101.8V113.1M571.97,101.8V107.1M551.16,101.8V109.1M574.34,101.8V111.0M575.57,101.8V111.0M576.90,101.8V116.9M568.91,101.8V107.6M550.87,101.8V109.2M576.48,101.8V103.8M562.73,101.8V104.6M555.78,101.8V105.1M556.14,101.8V104.8M555.93,101.8V108.4M574.88,101.8V104.7M551.95,101.8V109.2M578.04,101.8V113.9M550.23,101.8V104.0M572.02,101.8V105.1M556.83,101.8V108.1M565.60,101.8V103.9M555.18,101.8V104.3M577.47,101.8V109.3M554.52,101.8V106.7M564.12,101.8V115.6M568.49,101.8V109.2M563.70,101.8V112.5M556.38,101.8V106.1M558.66,101.8V106.5M578.55,101.8V114.5M553.58,101.8V109.9M550.25,101.8V115.8M577.75,101.8V105.1M577.06,101.8V104.2M570.85,101.8V111.0M564.27,101.8V104.2M579.08,101.8V104.0M562.46,101.8V106.6M550.11,101.8V111.2" stroke="#588ca5" stroke-width="0.55" fill="none"/>
<polygon points="580.87,35.5 581.37,33.1 581.87,35.0 582.37,35.9 582.86,34.5 583.36,34.1 583.86,36.4 584.36,34.2 584.86,36.3 585.36,31.5 585.86,34.5 586.36,36.2 586.86,36.7 587.36,36.2 587.86,35.7 588.36,34.3 588.86,33.7 589.36,33.4 589.85,35.1 590.35,33.9 590.85,34.4 591.35,35.8 591.85,36.1 592.35,35.3 592.85,33.5 593.35,36.5 593.85,33.9 594.35,36.8 594.85,36.3 595.35,33.7 595.85,32.7 596.35,33.0 596.84,33.6 597.34,36.0 597.84,31.4 598.34,34.1 598.84,32.0 599.34,31.8 599.84,36.1 600.34,31.5 600.84,36.6 601.34,33.9 601.84,36.0 602.34,36.6 602.84,34.3 603.34,36.2 603.84,32.9 604.33,34.9 604.83,35.9 605.33,36.8 605.83,33.5 606.33,33.9 606.83,32.7 607.33,35.4 607.83,31.9 608.33,36.8 608.83,31.9 609.33,33.0 609.83,36.6 610.33,31.4 610.83,36.6 611.32,33.1 611.82,36.0 612.32,33.5 612.82,32.5 612.82,102.9 612.32,106.0 611.82,102.8 611.32,103.6 610.83,104.0 610.33,103.4 609.83,106.5 609.33,105.5 608.83,103.1 608.33,103.6 607.83,106.8 607.33,103.7 606.83,105.1 606.33,104.0 605.83,102.9 605.33,103.5 604.83,106.6 604.33,108.1 603.84,105.8 603.34,104.2 602.84,103.5 602.34,106.4 601.84,106.1 601.34,105.3 600.84,103.1 600.34,104.6 599.84,103.9 599.34,107.7 598.84,103.8 598.34,103.3 597.84,105.3 597.34,105.0 596.84,103.3 596.35,102.8 595.85,108.1 595.35,102.9 594.85,106.1 594.35,105.5 593.85,106.4 593.35,103.0 592.85,107.4 592.35,104.5 591.85,106.3 591.35,106.7 590.85,106.6 590.35,102.8 589.85,105.1 589.36,106.5 588.86,106.0 588.36,105.8 587.86,104.6 587.36,104.8 586.86,104.1 586.36,103.0 585.86,104.6 585.36,106.7 584.86,104.1 584.36,103.0 583.86,103.1 583.36,103.0 582.86,103.2 582.37,104.8 581.87,107.5 581.37,103.9 580.87,103.1" fill="#4caea1"/>
<path d="M600.05,37.8V33.9M600.52,37.8V33.0M597.53,37.8V23.0M582.48,37.8V25.7M582.32,37.8V27.3M597.06,37.8V24.3M596.30,37.8V33.1M581.64,37.8V22.2M581.50,37.8V23.9M605.03,37.8V35.0M591.18,37.8V33.1M603.29,37.8V33.9M587.29,37.8V34.9M589.36,37.8V23.3M608.88,37.8V33.0M587.27,37.8V24.8M593.76,37.8V30.0M596.55,37.8V35.7M603.13,37.8V32.4M591.06,37.8V26.6M601.20,37.8V33.8M588.02,37.8V34.1M602.19,37.8V35.6M581.82,37.8V31.9M586.93,37.8V23.1M583.05,37.8V35.8M584.31,37.8V24.4M604.25,37.8V29.9M595.49,37.8V34.2M605.34,37.8V24.1M611.25,37.8V23.5M586.91,37.8V22.4M604.89,37.8V32.0M611.16,37.8V32.7M590.71,37.8V28.8M583.55,37.8V24.3M595.42,37.8V33.5M597.91,37.8V33.7M602.40,37.8V32.7M598.78,37.8V35.8M590.48,37.8V25.4M586.18,37.8V32.1M591.66,37.8V32.0M595.63,37.8V29.4M586.89,37.8V26.0M590.38,37.8V28.1M608.45,37.8V33.6M594.23,37.8V34.0M585.03,37.8V33.6M601.70,37.8V31.0M592.12,37.8V26.0M597.06,37.8V35.8M593.28,37.8V29.8M584.71,37.8V25.3M603.91,37.8V30.6M598.72,37.8V33.1M611.68,37.8V31.9M581.31,37.8V31.3M598.98,37.8V29.5M594.30,37.8V35.6M594.58,37.8V26.4M603.46,37.8V30.7M588.65,37.8V34.2M593.51,37.8V23.8M585.28,37.8V32.9M598.65,37.8V26.7M594.66,37.8V34.0M582.48,37.8V30.8M588.27,37.8V35.0M593.37,37.8V34.3M597.58,37.8V33.7M584.03,37.8V35.3M600.28,37.8V27.0M606.40,37.8V32.2M591.44,37.8V33.5M583.23,37.8V30.2M585.69,37.8V34.6M604.71,37.8V32.4M597.59,37.8V30.5M585.37,37.8V29.7M586.35,37.8V32.6M606.87,37.8V27.4M602.13,37.8V24.8M602.63,37.8V22.7M585.50,37.8V30.6M611.73,37.8V22.6M589.00,37.8V23.2M592.09,37.8V29.0M588.39,37.8V35.3M610.25,37.8V29.2M600.66,37.8V31.0M598.24,37.8V28.1M593.95,37.8V34.3M603.29,37.8V22.0M595.63,37.8V33.5M595.41,37.8V21.8M585.85,37.8V34.2M606.58,37.8V31.8M583.21,37.8V28.5M609.17,37.8V34.4M609.44,37.8V32.8M597.32,37.8V28.9M586.21,37.8V27.2M587.89,37.8V23.7M585.48,37.8V30.7M602.79,37.8V22.7M592.36,37.8V34.2M611.48,37.8V29.8M591.70,37.8V27.1M591.34,37.8V35.6M602.05,37.8V26.5M608.27,37.8V25.8M597.42,37.8V30.5M584.94,37.8V23.6M586.43,37.8V28.2M603.23,37.8V33.3M604.80,37.8V26.1M611.71,37.8V31.2M598.85,37.8V28.5M605.30,37.8V22.1M601.99,37.8V28.2M598.13,37.8V26.7M606.11,37.8V25.9M587.46,37.8V34.9M585.89,37.8V35.7M583.51,101.8V116.7M595.51,101.8V109.0M610.96,101.8V105.9M594.93,101.8V107.0M609.67,101.8V109.0M590.21,101.8V114.9M585.55,101.8V114.3M593.71,101.8V106.7M607.22,101.8V107.9M611.02,101.8V103.9M597.78,101.8V110.3M592.90,101.8V113.4M605.47,101.8V104.7M594.29,101.8V110.3M590.49,101.8V104.3M604.50,101.8V114.2M583.73,101.8V112.0M605.13,101.8V116.3M610.61,101.8V105.4M584.34,101.8V104.5M605.29,101.8V109.2M581.89,101.8V103.9M585.02,101.8V113.8M590.20,101.8V104.7M612.00,101.8V104.3M582.80,101.8V104.3M595.25,101.8V111.5M594.82,101.8V103.9M586.63,101.8V107.0M611.34,101.8V104.6M588.46,101.8V113.0M608.98,101.8V103.9M597.92,101.8V104.7M603.17,101.8V112.8M604.11,101.8V108.3M601.99,101.8V104.2M606.13,101.8V117.6M608.36,101.8V106.4M585.54,101.8V107.0M583.92,101.8V112.2M595.16,101.8V108.0M584.49,101.8V114.0M599.40,101.8V108.6M610.22,101.8V105.1M597.06,101.8V108.6M586.35,101.8V114.2M584.77,101.8V105.4M597.58,101.8V110.3M604.10,101.8V109.3M606.05,101.8V111.3M604.49,101.8V106.3M595.51,101.8V104.9M608.18,101.8V110.8M597.86,101.8V114.4M602.24,101.8V107.7M581.24,101.8V104.3M596.30,101.8V113.5M583.84,101.8V108.5M587.73,101.8V111.1M590.46,101.8V104.1M598.86,101.8V113.1M583.53,101.8V106.4M603.14,101.8V115.3M593.35,101.8V105.1M587.89,101.8V103.8M610.65,101.8V105.8M601.56,101.8V111.9M591.53,101.8V111.8M584.96,101.8V114.4M596.28,101.8V104.8M604.98,101.8V109.6M596.97,101.8V104.0M590.72,101.8V104.9M584.65,101.8V103.9M588.07,101.8V110.2M605.55,101.8V115.4M586.09,101.8V109.7M611.44,101.8V109.7M603.67,101.8V115.6M593.61,101.8V105.9M587.00,101.8V109.0M595.53,101.8V113.6M610.56,101.8V104.7M584.84,101.8V111.5M588.68,101.8V104.0M583.54,101.8V106.4M603.50,101.8V104.6M610.51,101.8V107.2M598.35,101.8V104.7M590.35,101.8V103.9M610.91,101.8V107.3M599.28,101.8V106.6M610.79,101.8V112.1M592.68,101.8V103.8M585.66,101.8V110.3M583.32,101.8V103.9M589.41,101.8V107.9M594.54,101.8V103.8M604.72,101.8V115.7M595.63,101.8V107.9M589.48,101.8V107.8M608.95,101.8V104.0M598.97,101.8V113.1M599.77,101.8V105.3M606.47,101.8V107.7M601.87,101.8V111.8M588.62,101.8V113.2M610.57,101.8V106.6M586.15,101.8V103.9M586.11,101.8V117.5M601.19,101.8V105.2M599.14,101.8V103.9M588.24,101.8V110.0M602.84,101.8V114.9M584.23,101.8V104.0M595.83,101.8V103.9M610.39,101.8V111.0M608.81,101.8V109.2M599.80,101.8V105.2M605.64,101.8V105.3M601.63,101.8V112.7M588.36,101.8V103.8M607.66,101.8V105.0M600.02,101.8V106.3M599.55,101.8V112.9" stroke="#4caea1" stroke-width="0.55" fill="none"/>
<polygon points="612.32,35.7 612.82,36.7 613.32,33.2 613.82,33.5 614.32,36.5 614.82,33.3 615.32,34.0 615.82,35.4 616.32,34.2 616.82,34.7 617.32,32.8 617.82,31.7 618.31,35.6 618.81,36.6 619.31,35.5 619.81,34.1 620.31,36.0 620.81,36.4 621.31,36.2 621.81,32.4 622.31,33.4 622.81,36.5 623.31,35.8 623.81,35.9 624.31,36.5 624.81,32.5 625.30,35.8 625.80,34.3 626.30,35.4 626.80,36.7 627.30,36.7 627.80,33.5 628.30,33.9 628.80,34.8 629.30,36.3 629.80,35.6 630.30,34.7 630.80,36.2 631.30,34.3 631.80,32.5 632.30,36.3 632.79,31.8 633.29,34.7 633.79,31.5 634.29,31.5 634.79,36.7 635.29,33.6 635.79,36.0 636.29,34.0 636.79,32.1 637.29,35.0 637.79,33.8 638.29,33.7 638.79,36.3 639.29,35.1 639.78,35.8 640.28,34.8 640.78,33.0 641.28,36.4 641.78,34.4 642.28,34.7 642.78,35.4 643.28,32.5 643.78,35.5 644.28,32.8 644.28,104.2 643.78,103.5 643.28,104.2 642.78,103.1 642.28,107.0 641.78,103.1 641.28,105.9 640.78,107.9 640.28,102.9 639.78,108.1 639.29,107.0 638.79,102.8 638.29,107.1 637.79,104.0 637.29,104.0 636.79,103.1 636.29,102.9 635.79,107.3 635.29,103.9 634.79,105.6 634.29,103.9 633.79,103.1 633.29,106.8 632.79,106.7 632.30,106.0 631.80,107.8 631.30,106.7 630.80,108.0 630.30,106.2 629.80,107.8 629.30,106.7 628.80,102.8 628.30,103.8 627.80,106.1 627.30,103.2 626.80,104.0 626.30,102.8 625.80,103.1 625.30,106.2 624.81,103.6 624.31,105.9 623.81,106.0 623.31,106.8 622.81,105.6 622.31,106.9 621.81,103.5 621.31,103.0 620.81,105.0 620.31,102.9 619.81,104.5 619.31,105.9 618.81,104.6 618.31,103.7 617.82,105.5 617.32,107.5 616.82,107.5 616.32,107.4 615.82,103.1 615.32,104.2 614.82,103.4 614.32,105.9 613.82,107.2 613.32,103.0 612.82,104.5 612.32,102.9" fill="#71cf89"/>
<path d="M617.12,37.8V24.5M624.31,37.8V35.4M630.17,37.8V32.9M626.95,37.8V35.6M628.72,37.8V26.4M640.19,37.8V24.5M638.90,37.8V34.1M616.10,37.8V25.8M635.30,37.8V22.9M637.19,37.8V34.6M640.68,37.8V22.6M624.74,37.8V33.6M641.11,37.8V28.0M629.80,37.8V30.9M627.08,37.8V33.5M628.31,37.8V29.9M625.34,37.8V35.8M633.91,37.8V31.5M629.03,37.8V31.5M639.72,37.8V29.3M627.10,37.8V26.9M614.24,37.8V24.5M617.46,37.8V26.2M625.36,37.8V24.7M627.17,37.8V33.2M637.72,37.8V35.5M630.85,37.8V29.1M617.85,37.8V35.7M621.95,37.8V22.9M629.17,37.8V31.7M637.10,37.8V34.4M634.49,37.8V35.8M632.38,37.8V25.3M620.51,37.8V25.5M630.22,37.8V35.3M620.19,37.8V26.8M614.64,37.8V35.6M636.03,37.8V28.2M632.68,37.8V31.0M643.12,37.8V29.2M635.68,37.8V35.3M620.42,37.8V26.4M613.49,37.8V26.5M625.90,37.8V25.4M623.11,37.8V32.8M628.53,37.8V34.4M624.18,37.8V30.7M614.10,37.8V28.2M614.74,37.8V27.0M623.69,37.8V32.2M630.80,37.8V29.8M618.04,37.8V29.1M618.16,37.8V30.1M619.78,37.8V27.8M635.51,37.8V33.9M636.20,37.8V34.6M627.66,37.8V34.1M614.30,37.8V26.4M641.64,37.8V22.5M639.43,37.8V33.8M621.92,37.8V29.0M612.89,37.8V30.2M627.80,37.8V24.5M617.81,37.8V35.8M624.35,37.8V29.6M624.96,37.8V24.8M622.24,37.8V22.6M640.80,37.8V32.6M624.64,37.8V31.8M616.08,37.8V25.4M630.36,37.8V23.3M640.03,37.8V34.6M619.76,37.8V24.4M628.28,37.8V35.4M624.28,37.8V35.7M633.47,37.8V35.8M622.26,37.8V35.6M620.50,37.8V35.5M642.27,37.8V34.6M638.03,37.8V34.1M634.32,37.8V22.5M632.87,37.8V26.2M641.44,37.8V35.5M614.39,37.8V34.9M626.22,37.8V28.3M631.84,37.8V29.9M616.60,37.8V32.3M643.34,37.8V32.5M633.80,37.8V27.3M636.05,37.8V31.6M642.43,37.8V27.8M630.46,37.8V35.8M640.79,37.8V35.5M624.13,37.8V35.0M641.06,37.8V30.1M628.28,37.8V30.2M636.55,37.8V24.8M621.00,37.8V24.4M627.32,37.8V26.1M629.79,37.8V33.7M628.53,37.8V35.7M641.12,37.8V24.4M626.72,37.8V23.4M639.65,37.8V35.8M616.05,37.8V35.8M619.12,37.8V35.1M618.04,37.8V33.3M618.26,37.8V28.1M630.69,37.8V32.1M615.77,37.8V28.9M633.40,37.8V25.9M639.52,37.8V35.1M641.09,37.8V33.9M614.33,37.8V22.5M620.22,37.8V30.9M626.23,37.8V31.6M613.07,37.8V30.7M633.41,37.8V30.8M626.65,37.8V27.7M625.80,37.8V24.7M617.42,37.8V29.5M614.75,37.8V29.4M639.90,37.8V30.3M631.09,37.8V34.6M623.31,37.8V26.9M618.74,101.8V104.9M620.57,101.8V108.0M623.10,101.8V111.1M628.82,101.8V104.2M637.87,101.8V110.1M623.62,101.8V104.9M631.22,101.8V116.9M626.05,101.8V109.0M626.40,101.8V104.3M642.44,101.8V114.1M632.61,101.8V108.0M613.17,101.8V112.8M639.29,101.8V108.7M628.09,101.8V115.2M642.35,101.8V105.4M616.47,101.8V117.1M642.23,101.8V103.8M632.84,101.8V106.5M631.80,101.8V104.4M627.97,101.8V117.5M642.47,101.8V103.8M638.44,101.8V105.5M628.79,101.8V106.6M624.20,101.8V104.0M624.61,101.8V115.9M627.37,101.8V112.8M618.17,101.8V108.7M619.83,101.8V106.8M633.04,101.8V104.7M636.42,101.8V104.5M640.59,101.8V106.8M617.51,101.8V109.9M622.16,101.8V114.5M618.33,101.8V105.1M631.94,101.8V114.7M621.94,101.8V110.7M622.50,101.8V104.4M614.70,101.8V103.8M636.48,101.8V103.8M641.39,101.8V117.0M616.83,101.8V105.1M627.75,101.8V103.9M636.85,101.8V110.7M639.44,101.8V105.4M623.47,101.8V116.5M614.47,101.8V110.8M636.26,101.8V115.2M634.52,101.8V110.5M624.84,101.8V112.0M642.95,101.8V107.6M634.73,101.8V107.1M630.22,101.8V113.0M630.83,101.8V104.6M615.09,101.8V103.9M642.23,101.8V115.8M643.17,101.8V106.5M617.71,101.8V109.0M636.34,101.8V106.7M630.50,101.8V112.3M624.79,101.8V112.9M630.85,101.8V104.6M616.36,101.8V112.8M623.43,101.8V105.8M622.91,101.8V109.2M633.64,101.8V107.9M628.91,101.8V114.3M613.43,101.8V107.0M621.52,101.8V113.9M624.46,101.8V116.4M623.83,101.8V109.3M636.90,101.8V113.7M638.20,101.8V115.2M641.99,101.8V104.9M641.65,101.8V107.4M627.70,101.8V115.5M629.86,101.8V112.6M631.23,101.8V114.4M628.27,101.8V109.7M613.80,101.8V106.5M616.03,101.8V113.1M637.19,101.8V106.1M635.85,101.8V109.4M622.21,101.8V104.8M618.72,101.8V106.8M630.17,101.8V107.4M638.79,101.8V104.1M614.32,101.8V104.1M632.74,101.8V115.2M619.57,101.8V117.5M620.52,101.8V104.4M626.24,101.8V106.3M617.68,101.8V111.0M635.61,101.8V104.3M615.59,101.8V103.9M627.90,101.8V115.6M633.24,101.8V105.4M638.23,101.8V116.8M629.70,101.8V108.4M616.63,101.8V109.5M637.57,101.8V108.7M641.59,101.8V108.2M613.55,101.8V105.3M640.86,101.8V110.1M631.80,101.8V107.3M631.06,101.8V114.4M624.60,101.8V105.5M617.64,101.8V104.7M631.15,101.8V114.7M639.93,101.8V108.6M613.37,101.8V104.9M629.75,101.8V112.9M632.29,101.8V105.5M640.98,101.8V111.8M613.09,101.8V110.6M624.03,101.8V105.5M616.54,101.8V110.4M622.21,101.8V107.9M640.62,101.8V103.8M618.18,101.8V117.3M623.70,101.8V105.2M637.98,101.8V106.6M635.75,101.8V115.1M640.92,101.8V111.3M616.44,101.8V104.5M614.84,101.8V110.4" stroke="#71cf89" stroke-width="0.55" fill="none"/>
<polygon points="643.78,36.8 644.28,33.1 644.78,34.1 645.28,33.7 645.78,34.3 646.27,35.5 646.77,33.8 647.27,34.9 647.77,33.1 648.27,36.7 648.77,35.9 649.27,36.4 649.77,34.6 650.27,34.0 650.77,36.1 651.27,31.7 651.77,35.4 652.27,36.8 652.77,33.3 653.27,36.5 653.76,36.8 654.26,35.8 654.76,34.9 655.26,36.1 655.76,35.6 656.26,36.5 656.76,35.5 657.26,32.8 657.76,35.7 658.26,34.2 658.76,36.2 659.26,36.5 659.76,35.7 660.26,36.8 660.75,34.9 661.25,33.4 661.75,35.2 662.25,36.1 662.75,35.7 663.25,32.6 663.75,36.0 664.25,35.6 664.75,33.5 665.25,36.0 665.75,31.8 666.25,36.3 666.75,36.8 667.25,35.1 667.74,34.5 668.24,34.3 668.74,35.7 669.24,32.9 669.74,32.5 670.24,34.8 670.74,32.6 671.24,32.7 671.74,36.3 672.24,36.4 672.74,36.5 673.24,36.6 673.74,32.9 674.24,35.4 674.73,36.4 675.23,34.4 675.23,104.7 674.73,106.9 674.24,103.3 673.74,108.0 673.24,102.9 672.74,103.9 672.24,106.4 671.74,107.9 671.24,106.9 670.74,103.1 670.24,103.2 669.74,102.9 669.24,107.3 668.74,104.3 668.24,106.8 667.74,103.0 667.25,105.9 666.75,106.9 666.25,107.6 665.75,103.7 665.25,104.2 664.75,103.6 664.25,104.2 663.75,102.9 663.25,103.1 662.75,105.7 662.25,107.9 661.75,103.2 661.25,104.2 660.75,107.5 660.26,105.0 659.76,104.4 659.26,103.0 658.76,104.5 658.26,103.3 657.76,105.4 657.26,105.8 656.76,102.8 656.26,103.0 655.76,107.3 655.26,107.1 654.76,102.8 654.26,107.5 653.76,103.5 653.27,104.8 652.77,106.1 652.27,103.9 651.77,104.4 651.27,104.1 650.77,107.7 650.27,106.2 649.77,103.2 649.27,104.6 648.77,106.4 648.27,104.8 647.77,104.2 647.27,108.0 646.77,104.7 646.27,108.2 645.78,106.2 645.28,107.0 644.78,104.4 644.28,102.9 643.78,103.8" fill="#cae551"/>
<path d="M654.53,37.8V23.4M656.73,37.8V23.0M646.46,37.8V35.5M647.68,37.8V27.8M670.83,37.8V32.5M658.05,37.8V25.5M664.82,37.8V23.3M654.34,37.8V31.5M658.96,37.8V29.3M668.59,37.8V33.3M664.01,37.8V28.8M656.38,37.8V22.0M658.31,37.8V33.6M674.51,37.8V35.8M645.08,37.8V22.5M656.47,37.8V35.8M648.10,37.8V28.4M647.31,37.8V30.3M645.72,37.8V32.8M667.70,37.8V23.4M658.18,37.8V35.4M661.02,37.8V34.6M653.39,37.8V25.6M656.26,37.8V35.8M658.02,37.8V34.4M669.65,37.8V35.1M646.89,37.8V32.6M649.62,37.8V27.5M649.31,37.8V22.9M658.44,37.8V34.5M658.80,37.8V35.8M665.07,37.8V27.4M674.58,37.8V23.9M672.38,37.8V35.8M651.49,37.8V29.7M656.66,37.8V30.0M660.45,37.8V30.7M668.48,37.8V29.5M659.87,37.8V34.2M649.00,37.8V24.2M645.62,37.8V34.7M654.57,37.8V23.1M662.80,37.8V22.9M649.63,37.8V25.6M658.11,37.8V33.0M655.91,37.8V23.0M673.71,37.8V34.8M665.67,37.8V31.6M674.18,37.8V31.4M660.09,37.8V35.3M659.24,37.8V22.1M674.24,37.8V35.0M656.66,37.8V31.8M661.15,37.8V35.6M644.82,37.8V34.2M649.29,37.8V25.6M652.93,37.8V28.5M651.64,37.8V33.3M657.46,37.8V29.1M671.51,37.8V35.1M650.54,37.8V28.9M645.55,37.8V24.3M661.44,37.8V35.8M655.30,37.8V34.0M645.52,37.8V34.4M667.53,37.8V35.6M673.01,37.8V23.8M667.08,37.8V28.4M668.75,37.8V29.7M667.48,37.8V29.7M674.28,37.8V28.7M648.39,37.8V34.1M671.14,37.8V34.9M665.73,37.8V35.6M673.38,37.8V35.2M670.22,37.8V34.9M661.12,37.8V26.3M664.38,37.8V33.8M651.67,37.8V33.0M654.40,37.8V27.4M648.69,37.8V22.5M656.51,37.8V35.5M669.58,37.8V30.1M654.61,37.8V32.6M671.29,37.8V35.0M650.12,37.8V33.6M664.04,37.8V26.6M651.30,37.8V34.3M663.72,37.8V30.6M668.34,37.8V32.1M671.18,37.8V35.8M667.59,37.8V25.0M648.46,37.8V24.9M665.23,37.8V25.5M653.16,37.8V32.4M659.70,37.8V32.5M648.44,37.8V28.7M657.72,37.8V22.1M664.39,37.8V31.5M647.61,37.8V34.0M662.25,37.8V31.9M671.39,37.8V30.4M660.33,37.8V29.4M654.16,37.8V23.2M650.45,37.8V30.3M658.39,37.8V25.8M656.25,37.8V31.9M665.49,37.8V32.2M666.93,37.8V24.0M665.61,37.8V34.1M667.47,37.8V34.0M668.46,37.8V30.8M666.46,37.8V35.5M651.80,37.8V35.1M661.90,37.8V31.2M656.15,37.8V29.2M646.46,37.8V22.3M663.50,37.8V35.5M648.46,37.8V35.7M665.23,37.8V28.4M660.67,37.8V24.2M646.28,37.8V35.6M657.08,37.8V34.0M660.95,37.8V28.5M651.77,37.8V29.2M670.91,101.8V104.6M664.52,101.8V106.1M673.32,101.8V107.9M653.13,101.8V108.3M667.08,101.8V104.3M662.27,101.8V114.0M656.22,101.8V104.4M666.32,101.8V107.6M670.17,101.8V109.2M661.96,101.8V107.2M666.17,101.8V106.0M656.79,101.8V111.9M670.62,101.8V108.5M655.94,101.8V111.1M663.32,101.8V112.6M662.46,101.8V116.0M659.92,101.8V108.0M672.41,101.8V107.0M665.79,101.8V115.9M662.26,101.8V117.0M666.09,101.8V114.9M665.95,101.8V104.7M654.29,101.8V115.7M653.84,101.8V110.5M662.89,101.8V108.4M648.38,101.8V104.2M669.09,101.8V104.4M667.81,101.8V114.8M663.86,101.8V105.5M654.35,101.8V107.7M674.28,101.8V107.1M666.97,101.8V106.6M670.66,101.8V107.1M666.28,101.8V105.4M661.32,101.8V115.5M652.83,101.8V108.3M649.65,101.8V105.5M669.27,101.8V104.8M663.26,101.8V113.4M651.38,101.8V113.2M650.52,101.8V113.8M659.10,101.8V109.6M663.67,101.8V105.9M667.59,101.8V104.8M658.89,101.8V106.4M651.80,101.8V104.0M664.97,101.8V105.4M648.08,101.8V106.1M649.38,101.8V104.2M655.55,101.8V104.4M661.42,101.8V104.2M644.66,101.8V106.6M648.26,101.8V116.1M665.92,101.8V116.8M656.76,101.8V104.1M657.87,101.8V109.6M658.64,101.8V103.8M649.48,101.8V110.8M673.85,101.8V110.1M672.56,101.8V108.3M663.65,101.8V105.4M646.91,101.8V107.6M665.28,101.8V103.9M669.04,101.8V110.6M654.42,101.8V112.9M648.73,101.8V104.0M666.50,101.8V117.8M663.68,101.8V104.5M656.19,101.8V115.9M653.19,101.8V117.3M672.74,101.8V107.1M646.76,101.8V114.2M653.65,101.8V109.1M658.86,101.8V105.3M662.26,101.8V111.2M651.97,101.8V106.3M662.41,101.8V104.4M647.55,101.8V112.8M660.48,101.8V104.6M646.70,101.8V116.3M656.11,101.8V104.7M666.06,101.8V105.8M650.24,101.8V113.4M648.78,101.8V114.1M673.87,101.8V106.8M657.31,101.8V109.8M645.85,101.8V116.5M657.20,101.8V105.5M652.48,101.8V105.3M669.31,101.8V104.1M671.21,101.8V111.2M667.59,101.8V111.3M664.87,101.8V104.2M661.70,101.8V111.8M645.86,101.8V105.5M664.16,101.8V108.3M656.02,101.8V109.1M652.78,101.8V109.4M661.51,101.8V108.9M651.55,101.8V106.7M674.54,101.8V111.4M662.53,101.8V104.8M667.18,101.8V114.8M647.43,101.8V106.6M645.21,101.8V112.8M649.40,101.8V109.8M649.77,101.8V107.4M661.06,101.8V107.8M664.32,101.8V108.5M671.71,101.8V107.0M647.02,101.8V109.0M659.43,101.8V107.8M664.43,101.8V114.3M656.92,101.8V105.2M646.30,101.8V112.4M647.06,101.8V106.9M644.36,101.8V114.5M653.99,101.8V114.0M649.03,101.8V104.0M673.37,101.8V116.1M663.54,101.8V113.6M647.10,101.8V110.6M664.61,101.8V104.6M659.64,101.8V114.1M669.70,101.8V109.5" stroke="#cae551" stroke-width="0.55" fill="none"/>
<path d="M477.0,70.1H684.5" stroke="#ff3030" stroke-opacity="0.45" stroke-width="0.7" stroke-dasharray="2.2,1.0"/>
<rect x="477.0" y="11.1" width="207.5" height="114.2" fill="none" stroke="#c4c4c4" stroke-width="1.2"/>
<text x="486.50" y="132.60" font-size="6.68" fill="#000" text-anchor="middle" stroke="#000" stroke-width="0.14" textLength="4.01" lengthAdjust="spacingAndGlyphs">0</text>
<text x="514.30" y="132.60" font-size="6.68" fill="#000" text-anchor="middle" stroke="#000" stroke-width="0.14" textLength="4.01" lengthAdjust="spacingAndGlyphs">1</text>
<text x="542.10" y="132.60" font-size="6.68" fill="#000" text-anchor="middle" stroke="#000" stroke-width="0.14" textLength="4.01" lengthAdjust="spacingAndGlyphs">2</text>
<text x="569.90" y="132.60" font-size="6.68" fill="#000" text-anchor="middle" stroke="#000" stroke-width="0.14" textLength="4.01" lengthAdjust="spacingAndGlyphs">3</text>
<text x="597.70" y="132.60" font-size="6.68" fill="#000" text-anchor="middle" stroke="#000" stroke-width="0.14" textLength="4.01" lengthAdjust="spacingAndGlyphs">4</text>
<text x="625.50" y="132.60" font-size="6.68" fill="#000" text-anchor="middle" stroke="#000" stroke-width="0.14" textLength="4.01" lengthAdjust="spacingAndGlyphs">5</text>
<text x="653.30" y="132.60" font-size="6.68" fill="#000" text-anchor="middle" stroke="#000" stroke-width="0.14" textLength="4.01" lengthAdjust="spacingAndGlyphs">6</text>
<text x="681.10" y="132.60" font-size="6.68" fill="#000" text-anchor="middle" stroke="#000" stroke-width="0.14" textLength="4.01" lengthAdjust="spacingAndGlyphs">7</text>
<text x="475.60" y="124.60" font-size="6.73" fill="#000" text-anchor="end" stroke="#000" stroke-width="0.14" textLength="18.18" lengthAdjust="spacingAndGlyphs">24.97</text>
<text x="475.60" y="107.20" font-size="6.73" fill="#000" text-anchor="end" stroke="#000" stroke-width="0.14" textLength="18.18" lengthAdjust="spacingAndGlyphs">24.98</text>
<text x="475.60" y="89.80" font-size="6.73" fill="#000" text-anchor="end" stroke="#000" stroke-width="0.14" textLength="18.18" lengthAdjust="spacingAndGlyphs">24.99</text>
<text x="475.60" y="72.40" font-size="6.73" fill="#000" text-anchor="end" stroke="#000" stroke-width="0.14" textLength="18.18" lengthAdjust="spacingAndGlyphs">25.00</text>
<text x="475.60" y="55.00" font-size="6.73" fill="#000" text-anchor="end" stroke="#000" stroke-width="0.14" textLength="18.18" lengthAdjust="spacingAndGlyphs">25.01</text>
<text x="475.60" y="37.60" font-size="6.73" fill="#000" text-anchor="end" stroke="#000" stroke-width="0.14" textLength="18.18" lengthAdjust="spacingAndGlyphs">25.02</text>
<text x="475.60" y="20.20" font-size="6.73" fill="#000" text-anchor="end" stroke="#000" stroke-width="0.14" textLength="18.18" lengthAdjust="spacingAndGlyphs">25.03</text>
<path d="M486.50,125.30v2.2M514.30,125.30v2.2M542.10,125.30v2.2M569.90,125.30v2.2M597.70,125.30v2.2M625.50,125.30v2.2M653.30,125.30v2.2M681.10,125.30v2.2M477.00,122.30h-2.2M477.00,104.90h-2.2M477.00,87.50h-2.2M477.00,70.10h-2.2M477.00,52.70h-2.2M477.00,35.30h-2.2M477.00,17.90h-2.2" stroke="#333" stroke-width="0.6"/>
<text x="580.70" y="140.90" font-size="8.58" fill="#000" text-anchor="middle" stroke="#000" stroke-width="0.18" textLength="52.45" lengthAdjust="spacingAndGlyphs">Time (Hours)</text>
<text x="451.20" y="68.10" font-size="8.64" fill="#000" text-anchor="middle" stroke="#000" stroke-width="0.18" textLength="70.34" lengthAdjust="spacingAndGlyphs" transform="rotate(-90 451.20 68.10)">Temperature (°C)</text>
<text x="580.80" y="9.05" font-size="6.52" fill="#000" text-anchor="middle" stroke="#000" stroke-width="0.14" textLength="159.70" lengthAdjust="spacingAndGlyphs">Sequential TEC Temperature Stability (Target: 25°C)</text>
<text x="502.10" y="20.70" font-size="5.67" fill="#440154" text-anchor="middle" font-weight="bold" stroke="#440154" stroke-width="0.19" textLength="22.92" lengthAdjust="spacingAndGlyphs">5.71mA</text>
<text x="533.60" y="16.00" font-size="5.67" fill="#433e85" text-anchor="middle" font-weight="bold" stroke="#433e85" stroke-width="0.19" textLength="22.92" lengthAdjust="spacingAndGlyphs">6.86mA</text>
<text x="565.00" y="17.80" font-size="5.67" fill="#2e6f8e" text-anchor="middle" font-weight="bold" stroke="#2e6f8e" stroke-width="0.19" textLength="19.19" lengthAdjust="spacingAndGlyphs">8.0mA</text>
<text x="596.30" y="22.80" font-size="5.67" fill="#1f9a8a" text-anchor="middle" font-weight="bold" stroke="#1f9a8a" stroke-width="0.19" textLength="22.92" lengthAdjust="spacingAndGlyphs">9.14mA</text>
<text x="628.20" y="22.10" font-size="5.67" fill="#4ec36b" text-anchor="middle" font-weight="bold" stroke="#4ec36b" stroke-width="0.19" textLength="26.64" lengthAdjust="spacingAndGlyphs">10.29mA</text>
<text x="659.80" y="22.00" font-size="5.67" fill="#bddf26" text-anchor="middle" font-weight="bold" stroke="#bddf26" stroke-width="0.19" textLength="26.64" lengthAdjust="spacingAndGlyphs">11.43mA</text>
<text x="0.00" y="140.50" font-size="15.50" fill="#3b1d1d">c)</text>
<path d="M78.20,146.50V409.10M161.81,146.50V409.10M245.42,146.50V409.10M329.03,146.50V409.10M412.64,146.50V409.10M496.25,146.50V409.10M579.86,146.50V409.10M663.47,146.50V409.10M49.50,377.40H674.50M49.50,336.04H674.50M49.50,294.68H674.50M49.50,253.32H674.50M49.50,211.96H674.50M49.50,170.60H674.50" stroke="#ececec" stroke-width="0.7" stroke-dasharray="3.4,0.9" fill="none"/>
<path d="M172.80,146.50V409.10M267.41,146.50V409.10M362.01,146.50V409.10M456.62,146.50V409.10M551.22,146.50V409.10" stroke="#dadada" stroke-width="1" fill="none"/>
<polyline points="78.2,397.48 78.4,396.46 78.6,397.01 78.7,396.74 78.9,396.71 79.1,396.70 79.3,396.28 79.5,396.60 79.7,396.42 79.8,397.24 80.0,396.56 80.2,396.40 80.4,396.37 80.6,396.26 80.8,396.14 80.9,396.25 81.1,396.40 81.3,396.22 81.5,396.44 81.7,396.18 81.8,396.20 82.0,396.49 82.2,396.26 82.4,396.02 82.6,396.07 82.8,396.20 82.9,396.47 83.1,396.00 83.3,395.99 83.5,396.23 83.7,395.83 83.9,395.94 84.0,396.17 84.2,396.09 84.4,395.98 84.6,396.09 84.8,395.35 84.9,396.14 85.1,395.72 85.3,395.57 85.5,395.96 85.7,396.04 85.9,395.80 86.0,395.66 86.2,395.88 86.4,395.86 86.6,396.15 86.8,396.01 86.9,395.89 87.1,396.08 87.3,395.80 87.5,395.65 87.7,395.96 87.9,395.95 88.0,395.78 88.2,395.66 88.4,395.87 88.6,395.30 88.8,395.96 89.0,395.91 89.1,395.47 89.3,395.82 89.5,395.60 89.7,395.96 89.9,395.38 90.0,395.61 90.2,395.94 90.4,396.03 90.6,395.34 90.8,395.69 91.0,395.86 91.1,395.66 91.3,396.11 91.5,395.54 91.7,395.86 91.9,395.56 92.1,396.07 92.2,395.77 92.4,395.70 92.6,395.42 92.8,396.12 93.0,395.93 93.1,395.93 93.3,396.01 93.5,395.84 93.7,395.64 93.9,395.61 94.1,395.61 94.2,396.05 94.4,395.47 94.6,395.65 94.8,395.70 95.0,395.81 95.2,395.89 95.3,395.51 95.5,395.41 95.7,395.77 95.9,396.02 96.1,395.92 96.2,395.81 96.4,395.70 96.6,395.83 96.8,395.71 97.0,395.93 97.2,395.60 97.3,395.79 97.5,395.74 97.7,395.88 97.9,395.81 98.1,396.29 98.3,396.07 98.4,396.07 98.6,395.34 98.8,395.69 99.0,395.64 99.2,395.87 99.3,395.29 99.5,396.00 99.7,395.98 99.9,395.49 100.1,395.56 100.3,395.60 100.4,395.77 100.6,395.89 100.8,396.18 101.0,395.72 101.2,395.92 101.3,395.79 101.5,396.13 101.7,395.91 101.9,396.04 102.1,395.54 102.3,395.72 102.4,395.59 102.6,396.07 102.8,395.90 103.0,395.70 103.2,395.67 103.4,395.86 103.5,395.62 103.7,395.57 103.9,395.86 104.1,396.27 104.3,395.71 104.4,395.65 104.6,395.52 104.8,395.48 105.0,395.87 105.2,395.94 105.4,395.76 105.5,395.83 105.7,395.78 105.9,395.79 106.1,395.44 106.3,395.67 106.5,395.78 106.6,395.60 106.8,395.66 107.0,395.59 107.2,395.69 107.4,395.94 107.5,395.68 107.7,395.73 107.9,395.93 108.1,395.89 108.3,396.11 108.5,395.33 108.6,395.94 108.8,395.66 109.0,395.79 109.2,395.93 109.4,395.98 109.6,395.98 109.7,395.79 109.9,396.09 110.1,395.70 110.3,395.73 110.5,395.93 110.6,395.65 110.8,396.21 111.0,395.97 111.2,396.21 111.4,395.75 111.6,395.68 111.7,395.79 111.9,395.91 112.1,395.64 112.3,395.84 112.5,395.76 112.7,396.09 112.8,395.62 113.0,395.98 113.2,395.63 113.4,395.56 113.6,395.61 113.7,395.51 113.9,395.79 114.1,395.97 114.3,395.79 114.5,395.89 114.7,396.10 114.8,395.82 115.0,395.80 115.2,395.70 115.4,395.43 115.6,395.92 115.8,395.40 115.9,395.89 116.1,395.76 116.3,395.99 116.5,395.75 116.7,395.59 116.8,395.83 117.0,395.64 117.2,395.72 117.4,395.77 117.6,395.73 117.8,395.72 117.9,395.59 118.1,395.72 118.3,395.32 118.5,395.73 118.7,395.51 118.8,395.99 119.0,396.02 119.2,395.36 119.4,395.79 119.6,395.73 119.8,395.54 119.9,395.87 120.1,395.66 120.3,395.39 120.5,395.70 120.7,395.73 120.9,395.78 121.0,395.51 121.2,395.89 121.4,395.91 121.6,395.52 121.8,395.62 121.9,395.74 122.1,395.64 122.3,396.12 122.5,395.80 122.7,395.55 122.9,395.60 123.0,395.75 123.2,396.23 123.4,395.72 123.6,395.79 123.8,395.87 124.0,395.75 124.1,396.23 124.3,395.65 124.5,395.91 124.7,395.79 124.9,395.89 125.0,395.52 125.2,396.13 125.4,395.73 125.6,395.77 125.8,395.57 126.0,395.61 126.1,395.88 126.3,395.96 126.5,395.92 126.7,396.01 126.9,395.91 127.1,395.77 127.2,395.93 127.4,395.88 127.6,395.74 127.8,395.91 128.0,396.03 128.1,395.81 128.3,395.69 128.5,395.91 128.7,396.15 128.9,395.72 129.1,395.74 129.2,395.73 129.4,396.01 129.6,395.38 129.8,395.84 130.0,396.01 130.2,395.59 130.3,396.07 130.5,395.87 130.7,395.65 130.9,395.80 131.1,395.44 131.2,395.64 131.4,396.14 131.6,395.58 131.8,396.14 132.0,395.74 132.2,395.97 132.3,395.77 132.5,395.30 132.7,395.64 132.9,395.80 133.1,395.52 133.2,395.48 133.4,395.84 133.6,395.63 133.8,395.41 134.0,395.62 134.2,395.94 134.3,395.66 134.5,395.95 134.7,396.08 134.9,395.77 135.1,395.53 135.3,395.49 135.4,395.75 135.6,395.94 135.8,395.82 136.0,395.87 136.2,395.67 136.3,395.82 136.5,395.66 136.7,395.69 136.9,395.49 137.1,395.43 137.3,395.66 137.4,395.53 137.6,395.56 137.8,395.90 138.0,395.74 138.2,396.36 138.4,395.95 138.5,395.63 138.7,395.92 138.9,395.83 139.1,395.62 139.3,395.99 139.4,395.60 139.6,395.13 139.8,395.92 140.0,395.63 140.2,396.07 140.4,395.63 140.5,395.52 140.7,396.08 140.9,395.54 141.1,395.80 141.3,396.06 141.5,395.78 141.6,395.74 141.8,395.78 142.0,395.93 142.2,395.59 142.4,395.89 142.5,395.88 142.7,396.24 142.9,395.69 143.1,395.57 143.3,395.91 143.5,395.68 143.6,395.82 143.8,395.79 144.0,396.00 144.2,395.62 144.4,395.74 144.6,395.23 144.7,395.58 144.9,396.08 145.1,395.62 145.3,395.61 145.5,395.51 145.6,395.88 145.8,395.80 146.0,395.51 146.2,395.90 146.4,395.81 146.6,395.92 146.7,395.63 146.9,396.12 147.1,395.84 147.3,395.74 147.5,395.65 147.6,395.71 147.8,395.94 148.0,395.70 148.2,395.98 148.4,395.88 148.6,396.04 148.7,395.93 148.9,395.75 149.1,395.37 149.3,395.82 149.5,395.92 149.7,395.79 149.8,395.88 150.0,395.66 150.2,395.68 150.4,395.57 150.6,396.04 150.7,395.79 150.9,395.66 151.1,395.48 151.3,395.73 151.5,396.06 151.7,395.86 151.8,395.61 152.0,396.06 152.2,396.06 152.4,395.96 152.6,395.92 152.8,396.00 152.9,395.87 153.1,395.92 153.3,395.60 153.5,396.07 153.7,395.81 153.8,396.18 154.0,395.34 154.2,395.91 154.4,395.96 154.6,395.69 154.8,395.85 154.9,395.91 155.1,395.88 155.3,395.65 155.5,395.73 155.7,395.97 155.9,396.02 156.0,395.78 156.2,395.78 156.4,395.80 156.6,395.97 156.8,395.54 156.9,395.49 157.1,395.79 157.3,395.53 157.5,395.64 157.7,395.78 157.9,395.86 158.0,395.54 158.2,395.93 158.4,395.39 158.6,395.87 158.8,395.43 159.0,395.50 159.1,395.89 159.3,395.68 159.5,395.60 159.7,395.67 159.9,395.86 160.0,395.75 160.2,395.75 160.4,395.98 160.6,395.61 160.8,395.66 161.0,395.65 161.1,396.00 161.3,395.97 161.5,396.03 161.7,395.75 161.9,395.73 162.1,395.94 162.2,395.68 162.4,395.93 162.6,395.91 162.8,395.62 163.0,395.74 163.1,395.74 163.3,396.12 163.5,396.30 163.7,395.74 163.9,395.76 164.1,395.29 164.2,395.80 164.4,395.76 164.6,395.54 164.8,395.92 165.0,395.44 165.1,395.72 165.3,395.79 165.5,395.50 165.7,395.94 165.9,395.98 166.1,395.47 166.2,395.47 166.4,395.88 166.6,395.75 166.8,395.51 167.0,395.70 167.2,395.74 167.3,395.73 167.5,395.93 167.7,395.84 167.9,396.13 168.1,396.04 168.2,395.90 168.4,395.98 168.6,396.03 168.8,395.91 169.0,395.51 169.2,395.94 169.3,395.77 169.5,396.09 169.7,395.78 169.9,395.87 170.1,395.83 170.3,396.11 170.4,395.80 170.6,395.70 170.8,395.82 171.0,395.67 171.2,395.79 171.3,395.76 171.5,395.82 171.7,396.16 171.9,395.68 172.1,395.77 172.3,395.72 172.4,395.90 172.6,395.52 172.8,395.62" fill="none" stroke="#440154" stroke-width="1.25" stroke-linejoin="round"/>
<polyline points="172.8,331.22 173.0,331.34 173.2,331.22 173.4,331.12 173.5,331.05 173.7,331.33 173.9,331.53 174.1,331.29 174.3,331.27 174.4,331.32 174.6,331.03 174.8,331.16 175.0,331.17 175.2,331.29 175.4,331.22 175.5,330.98 175.7,331.46 175.9,331.58 176.1,331.17 176.3,331.31 176.5,331.28 176.6,331.39 176.8,330.92 177.0,331.56 177.2,331.13 177.4,331.49 177.5,331.24 177.7,331.15 177.9,331.20 178.1,331.41 178.3,331.05 178.5,331.15 178.6,331.13 178.8,330.87 179.0,331.50 179.2,331.35 179.4,331.22 179.5,331.47 179.7,331.03 179.9,331.21 180.1,331.58 180.3,331.43 180.5,330.77 180.6,330.54 180.8,331.01 181.0,331.45 181.2,331.13 181.4,331.18 181.6,331.35 181.7,331.04 181.9,331.27 182.1,331.39 182.3,331.32 182.5,331.31 182.6,331.10 182.8,331.33 183.0,331.14 183.2,331.50 183.4,331.76 183.6,331.07 183.7,330.78 183.9,331.14 184.1,331.31 184.3,331.44 184.5,331.45 184.7,331.07 184.8,331.06 185.0,331.49 185.2,331.00 185.4,331.45 185.6,331.18 185.7,331.39 185.9,331.37 186.1,331.39 186.3,331.40 186.5,331.02 186.7,331.29 186.8,331.23 187.0,331.29 187.2,331.48 187.4,331.17 187.6,331.08 187.8,331.08 187.9,331.16 188.1,331.38 188.3,331.06 188.5,331.47 188.7,331.29 188.8,331.18 189.0,330.95 189.2,331.28 189.4,331.37 189.6,330.86 189.8,331.47 189.9,331.57 190.1,331.30 190.3,331.33 190.5,331.73 190.7,331.48 190.9,331.04 191.0,331.22 191.2,331.20 191.4,331.20 191.6,330.74 191.8,331.38 191.9,331.10 192.1,331.26 192.3,331.20 192.5,331.41 192.7,331.17 192.9,331.06 193.0,331.34 193.2,331.52 193.4,331.16 193.6,331.51 193.8,331.28 193.9,331.12 194.1,331.54 194.3,331.06 194.5,331.44 194.7,331.12 194.9,331.32 195.0,330.97 195.2,331.05 195.4,331.45 195.6,331.27 195.8,331.24 196.0,331.14 196.1,331.32 196.3,330.94 196.5,331.00 196.7,331.19 196.9,331.05 197.0,331.08 197.2,331.21 197.4,331.20 197.6,331.18 197.8,331.57 198.0,331.44 198.1,331.48 198.3,331.22 198.5,331.12 198.7,330.93 198.9,331.16 199.1,330.80 199.2,331.11 199.4,331.39 199.6,331.56 199.8,331.43 200.0,331.05 200.1,331.33 200.3,331.06 200.5,331.40 200.7,331.20 200.9,331.40 201.1,331.76 201.2,331.42 201.4,331.71 201.6,331.26 201.8,331.16 202.0,331.50 202.2,331.58 202.3,331.11 202.5,331.24 202.7,330.93 202.9,331.19 203.1,331.41 203.2,331.21 203.4,331.11 203.6,330.94 203.8,331.30 204.0,331.39 204.2,331.35 204.3,331.28 204.5,330.96 204.7,331.59 204.9,331.22 205.1,331.20 205.3,331.38 205.4,330.78 205.6,331.21 205.8,331.20 206.0,331.30 206.2,331.51 206.3,331.33 206.5,330.85 206.7,331.16 206.9,331.27 207.1,331.26 207.3,330.96 207.4,330.88 207.6,331.34 207.8,331.30 208.0,331.22 208.2,330.87 208.3,331.59 208.5,330.63 208.7,331.15 208.9,331.66 209.1,331.19 209.3,331.28 209.4,330.98 209.6,331.51 209.8,330.96 210.0,331.28 210.2,331.26 210.4,331.01 210.5,331.41 210.7,330.93 210.9,331.09 211.1,331.22 211.3,331.14 211.4,331.32 211.6,331.42 211.8,331.17 212.0,331.12 212.2,331.12 212.4,331.15 212.5,331.39 212.7,331.18 212.9,331.31 213.1,331.21 213.3,331.05 213.5,331.41 213.6,331.01 213.8,331.23 214.0,331.54 214.2,331.00 214.4,331.22 214.5,330.90 214.7,331.12 214.9,330.92 215.1,331.15 215.3,331.12 215.5,331.25 215.6,331.56 215.8,331.29 216.0,331.36 216.2,331.22 216.4,331.18 216.6,331.06 216.7,330.86 216.9,331.24 217.1,331.56 217.3,331.33 217.5,331.12 217.6,331.57 217.8,331.14 218.0,331.10 218.2,330.98 218.4,331.03 218.6,331.18 218.7,331.64 218.9,331.18 219.1,331.01 219.3,331.10 219.5,331.18 219.7,330.87 219.8,331.25 220.0,331.37 220.2,331.29 220.4,331.35 220.6,330.96 220.7,330.88 220.9,331.49 221.1,331.45 221.3,330.91 221.5,331.27 221.7,331.23 221.8,331.34 222.0,331.27 222.2,331.12 222.4,331.27 222.6,331.26 222.8,331.22 222.9,330.84 223.1,330.61 223.3,331.06 223.5,330.89 223.7,331.28 223.8,331.38 224.0,331.28 224.2,331.15 224.4,331.24 224.6,331.47 224.8,331.08 224.9,331.42 225.1,331.37 225.3,331.28 225.5,331.53 225.7,331.08 225.8,331.42 226.0,331.04 226.2,331.07 226.4,331.01 226.6,331.32 226.8,331.03 226.9,331.24 227.1,330.99 227.3,331.45 227.5,331.61 227.7,331.27 227.9,331.57 228.0,331.34 228.2,331.68 228.4,331.25 228.6,330.90 228.8,331.54 228.9,331.20 229.1,331.01 229.3,331.09 229.5,330.89 229.7,331.19 229.9,331.01 230.0,331.53 230.2,331.36 230.4,330.88 230.6,330.92 230.8,331.11 231.0,330.83 231.1,331.20 231.3,331.22 231.5,331.07 231.7,331.11 231.9,331.33 232.0,331.52 232.2,331.54 232.4,331.23 232.6,331.40 232.8,331.07 233.0,331.31 233.1,331.03 233.3,331.38 233.5,330.97 233.7,331.03 233.9,331.23 234.1,331.34 234.2,330.93 234.4,331.12 234.6,331.26 234.8,331.27 235.0,331.05 235.1,331.25 235.3,331.17 235.5,331.52 235.7,331.34 235.9,330.95 236.1,330.77 236.2,331.25 236.4,331.47 236.6,331.26 236.8,331.41 237.0,331.13 237.2,330.95 237.3,331.38 237.5,331.25 237.7,331.37 237.9,330.94 238.1,331.27 238.2,331.10 238.4,331.39 238.6,331.11 238.8,331.10 239.0,331.11 239.2,331.49 239.3,331.23 239.5,331.07 239.7,331.02 239.9,331.01 240.1,331.53 240.2,330.85 240.4,331.05 240.6,331.36 240.8,331.47 241.0,331.20 241.2,331.39 241.3,331.38 241.5,331.43 241.7,331.24 241.9,331.57 242.1,331.27 242.3,331.55 242.4,331.00 242.6,331.43 242.8,330.97 243.0,330.92 243.2,331.34 243.3,331.06 243.5,331.33 243.7,331.01 243.9,331.57 244.1,331.24 244.3,331.00 244.4,331.27 244.6,331.42 244.8,331.08 245.0,331.34 245.2,331.66 245.4,331.42 245.5,331.24 245.7,331.12 245.9,331.36 246.1,330.92 246.3,330.61 246.4,331.10 246.6,331.01 246.8,331.60 247.0,331.27 247.2,331.04 247.4,331.00 247.5,331.34 247.7,331.07 247.9,331.12 248.1,331.22 248.3,331.26 248.5,331.26 248.6,331.26 248.8,331.51 249.0,331.59 249.2,330.90 249.4,331.77 249.5,331.27 249.7,331.50 249.9,331.09 250.1,331.31 250.3,331.29 250.5,331.27 250.6,331.42 250.8,331.37 251.0,331.03 251.2,331.22 251.4,331.39 251.6,331.39 251.7,331.17 251.9,331.18 252.1,331.21 252.3,331.01 252.5,330.98 252.6,331.57 252.8,331.16 253.0,331.26 253.2,331.09 253.4,331.51 253.6,331.61 253.7,331.20 253.9,331.35 254.1,331.09 254.3,331.61 254.5,331.43 254.6,331.07 254.8,331.50 255.0,331.32 255.2,331.33 255.4,331.32 255.6,331.10 255.7,331.13 255.9,331.37 256.1,331.23 256.3,331.05 256.5,331.66 256.7,331.20 256.8,331.13 257.0,331.10 257.2,331.38 257.4,331.44 257.6,331.29 257.7,331.42 257.9,330.93 258.1,331.16 258.3,331.14 258.5,331.24 258.7,331.34 258.8,330.82 259.0,331.89 259.2,331.06 259.4,331.31 259.6,331.41 259.8,331.42 259.9,331.29 260.1,330.64 260.3,331.01 260.5,331.40 260.7,331.05 260.8,331.02 261.0,330.75 261.2,331.49 261.4,331.34 261.6,331.05 261.8,331.21 261.9,331.21 262.1,331.00 262.3,331.18 262.5,331.29 262.7,331.35 262.9,331.50 263.0,331.24 263.2,331.14 263.4,331.32 263.6,331.10 263.8,330.97 263.9,331.47 264.1,331.15 264.3,331.26 264.5,331.37 264.7,331.00 264.9,331.36 265.0,331.32 265.2,331.21 265.4,331.31 265.6,331.07 265.8,330.78 266.0,331.17 266.1,331.04 266.3,331.41 266.5,331.29 266.7,331.12 266.9,331.24 267.0,331.51 267.2,331.47 267.4,331.31" fill="none" stroke="#433e85" stroke-width="1.25" stroke-linejoin="round"/>
<polyline points="267.4,269.81 267.6,269.37 267.8,269.47 268.0,269.92 268.1,269.48 268.3,269.74 268.5,268.87 268.7,268.53 268.9,268.51 269.0,269.30 269.2,270.40 269.4,270.31 269.6,268.96 269.8,268.62 270.0,270.08 270.1,269.88 270.3,268.74 270.5,270.25 270.7,269.71 270.9,270.42 271.1,269.82 271.2,270.16 271.4,269.81 271.6,269.02 271.8,269.47 272.0,269.20 272.1,270.14 272.3,269.01 272.5,268.68 272.7,270.06 272.9,270.35 273.1,270.54 273.2,270.32 273.4,268.71 273.6,269.22 273.8,269.31 274.0,269.64 274.2,268.32 274.3,269.66 274.5,269.84 274.7,269.08 274.9,269.74 275.1,270.41 275.2,269.71 275.4,270.34 275.6,270.31 275.8,269.94 276.0,269.93 276.2,269.46 276.3,270.47 276.5,269.41 276.7,269.27 276.9,270.15 277.1,269.26 277.3,269.98 277.4,270.37 277.6,269.77 277.8,269.79 278.0,270.30 278.2,270.20 278.3,268.78 278.5,268.92 278.7,270.57 278.9,269.99 279.1,268.46 279.3,268.92 279.4,269.77 279.6,269.15 279.8,270.05 280.0,269.82 280.2,270.07 280.4,269.05 280.5,270.16 280.7,271.00 280.9,269.29 281.1,270.60 281.3,270.40 281.4,270.19 281.6,269.76 281.8,269.08 282.0,269.26 282.2,270.28 282.4,270.42 282.5,270.57 282.7,270.42 282.9,270.38 283.1,269.56 283.3,269.08 283.5,269.96 283.6,270.15 283.8,269.89 284.0,268.90 284.2,269.52 284.4,268.93 284.5,269.94 284.7,269.20 284.9,269.76 285.1,270.06 285.3,269.95 285.5,270.72 285.6,269.19 285.8,268.52 286.0,270.47 286.2,270.75 286.4,270.78 286.5,270.07 286.7,270.23 286.9,269.97 287.1,269.10 287.3,269.55 287.5,270.22 287.6,269.55 287.8,271.10 288.0,268.96 288.2,269.65 288.4,270.61 288.6,269.55 288.7,269.23 288.9,269.09 289.1,269.49 289.3,270.88 289.5,270.20 289.6,270.27 289.8,269.63 290.0,270.48 290.2,270.03 290.4,269.39 290.6,269.69 290.7,270.10 290.9,270.70 291.1,269.94 291.3,270.29 291.5,271.24 291.7,269.49 291.8,269.22 292.0,270.60 292.2,270.27 292.4,269.94 292.6,270.17 292.7,269.80 292.9,270.33 293.1,269.80 293.3,270.51 293.5,269.29 293.7,269.52 293.8,270.10 294.0,269.74 294.2,270.47 294.4,270.01 294.6,269.70 294.8,270.17 294.9,269.72 295.1,269.08 295.3,269.35 295.5,269.56 295.7,269.77 295.8,270.13 296.0,270.63 296.2,270.41 296.4,271.18 296.6,270.87 296.8,269.97 296.9,271.11 297.1,270.82 297.3,269.81 297.5,270.29 297.7,270.78 297.9,270.25 298.0,270.74 298.2,270.36 298.4,270.55 298.6,269.92 298.8,270.36 298.9,269.90 299.1,270.55 299.3,269.08 299.5,270.34 299.7,270.91 299.9,270.50 300.0,270.13 300.2,270.48 300.4,269.63 300.6,269.64 300.8,269.94 300.9,270.07 301.1,270.76 301.3,269.61 301.5,270.79 301.7,269.20 301.9,269.69 302.0,270.16 302.2,270.90 302.4,269.81 302.6,268.86 302.8,270.45 303.0,270.18 303.1,269.53 303.3,269.56 303.5,269.78 303.7,270.27 303.9,270.63 304.0,269.30 304.2,271.64 304.4,270.20 304.6,270.00 304.8,270.65 305.0,270.30 305.1,271.69 305.3,270.92 305.5,270.01 305.7,270.00 305.9,269.94 306.1,270.04 306.2,270.67 306.4,269.86 306.6,271.26 306.8,270.21 307.0,270.18 307.1,270.86 307.3,269.05 307.5,269.70 307.7,270.65 307.9,270.29 308.1,270.28 308.2,270.54 308.4,269.92 308.6,270.19 308.8,269.46 309.0,269.14 309.2,271.09 309.3,269.73 309.5,269.87 309.7,271.18 309.9,270.98 310.1,270.00 310.2,270.00 310.4,270.28 310.6,269.74 310.8,270.67 311.0,270.43 311.2,270.42 311.3,270.81 311.5,270.79 311.7,271.49 311.9,271.29 312.1,269.30 312.3,270.92 312.4,269.67 312.6,269.48 312.8,270.81 313.0,269.94 313.2,270.18 313.3,271.04 313.5,269.97 313.7,269.83 313.9,270.59 314.1,271.15 314.3,270.72 314.4,269.44 314.6,270.00 314.8,270.31 315.0,271.61 315.2,270.97 315.3,270.94 315.5,271.16 315.7,270.23 315.9,270.72 316.1,270.73 316.3,269.83 316.4,270.42 316.6,270.79 316.8,269.77 317.0,270.95 317.2,270.92 317.4,271.09 317.5,269.97 317.7,270.52 317.9,271.36 318.1,270.96 318.3,269.98 318.4,270.61 318.6,271.36 318.8,270.43 319.0,270.72 319.2,272.08 319.4,270.46 319.5,270.42 319.7,269.87 319.9,270.09 320.1,271.42 320.3,270.42 320.5,269.77 320.6,269.93 320.8,270.51 321.0,270.99 321.2,270.05 321.4,270.96 321.5,270.22 321.7,270.74 321.9,270.85 322.1,270.91 322.3,270.26 322.5,270.43 322.6,270.85 322.8,269.74 323.0,270.65 323.2,270.86 323.4,271.19 323.6,270.52 323.7,270.44 323.9,270.64 324.1,270.10 324.3,270.43 324.5,270.81 324.6,270.74 324.8,269.92 325.0,270.36 325.2,269.26 325.4,271.07 325.6,270.24 325.7,270.73 325.9,269.90 326.1,270.53 326.3,270.86 326.5,271.20 326.7,269.74 326.8,271.11 327.0,270.49 327.2,270.12 327.4,270.90 327.6,270.42 327.7,270.42 327.9,270.17 328.1,270.75 328.3,270.64 328.5,270.51 328.7,270.03 328.8,270.31 329.0,270.88 329.2,271.42 329.4,270.62 329.6,271.51 329.8,270.63 329.9,269.97 330.1,271.04 330.3,270.05 330.5,270.90 330.7,271.32 330.8,270.47 331.0,270.61 331.2,272.19 331.4,270.82 331.6,270.83 331.8,271.16 331.9,270.62 332.1,270.63 332.3,270.92 332.5,269.21 332.7,271.57 332.8,270.03 333.0,270.03 333.2,271.04 333.4,270.72 333.6,269.93 333.8,270.84 333.9,270.01 334.1,270.29 334.3,269.79 334.5,270.21 334.7,270.97 334.9,270.81 335.0,270.93 335.2,271.31 335.4,270.71 335.6,270.34 335.8,270.57 335.9,271.77 336.1,270.77 336.3,270.95 336.5,270.70 336.7,270.92 336.9,271.03 337.0,270.76 337.2,270.68 337.4,270.29 337.6,270.26 337.8,271.04 338.0,271.25 338.1,271.36 338.3,270.83 338.5,270.29 338.7,271.19 338.9,271.18 339.0,269.88 339.2,271.31 339.4,271.17 339.6,271.85 339.8,270.12 340.0,270.03 340.1,271.31 340.3,269.72 340.5,270.38 340.7,270.16 340.9,270.21 341.1,269.66 341.2,270.70 341.4,271.45 341.6,271.13 341.8,271.13 342.0,270.64 342.1,271.76 342.3,271.19 342.5,271.52 342.7,269.92 342.9,271.09 343.1,270.18 343.2,271.10 343.4,271.01 343.6,270.20 343.8,271.01 344.0,271.62 344.2,271.22 344.3,271.27 344.5,270.38 344.7,270.50 344.9,270.23 345.1,271.01 345.2,271.66 345.4,271.20 345.6,270.93 345.8,270.25 346.0,271.22 346.2,270.80 346.3,269.77 346.5,269.88 346.7,270.75 346.9,270.41 347.1,271.98 347.2,270.99 347.4,270.33 347.6,270.67 347.8,271.96 348.0,270.39 348.2,271.46 348.3,271.26 348.5,271.90 348.7,271.32 348.9,270.75 349.1,271.33 349.3,271.04 349.4,271.61 349.6,270.97 349.8,272.24 350.0,270.95 350.2,271.29 350.3,270.62 350.5,271.11 350.7,271.05 350.9,271.14 351.1,271.60 351.3,270.71 351.4,270.52 351.6,271.74 351.8,270.88 352.0,270.64 352.2,271.77 352.4,271.54 352.5,269.44 352.7,270.84 352.9,271.56 353.1,271.59 353.3,270.77 353.4,272.05 353.6,270.60 353.8,270.95 354.0,271.18 354.2,271.10 354.4,271.60 354.5,271.74 354.7,271.08 354.9,271.98 355.1,270.70 355.3,270.99 355.5,272.19 355.6,271.19 355.8,271.79 356.0,270.87 356.2,270.98 356.4,271.08 356.5,271.25 356.7,270.94 356.9,271.17 357.1,271.57 357.3,271.91 357.5,271.23 357.6,271.57 357.8,271.74 358.0,270.51 358.2,270.21 358.4,272.18 358.6,272.00 358.7,271.23 358.9,271.41 359.1,270.62 359.3,270.35 359.5,271.40 359.6,270.29 359.8,271.77 360.0,270.79 360.2,271.40 360.4,272.41 360.6,272.39 360.7,271.06 360.9,271.89 361.1,270.60 361.3,270.87 361.5,271.47 361.6,272.10 361.8,270.89 362.0,271.58" fill="none" stroke="#2e6f8e" stroke-width="1.25" stroke-linejoin="round"/>
<polyline points="362.0,229.17 362.2,227.76 362.4,228.92 362.6,230.60 362.7,228.96 362.9,229.57 363.1,229.90 363.3,228.28 363.5,230.30 363.7,230.58 363.8,230.67 364.0,230.37 364.2,228.53 364.4,228.39 364.6,228.18 364.7,228.04 364.9,228.14 365.1,229.97 365.3,230.45 365.5,228.27 365.7,229.75 365.8,227.59 366.0,228.55 366.2,227.84 366.4,227.18 366.6,228.90 366.8,228.91 366.9,228.40 367.1,228.26 367.3,227.77 367.5,228.64 367.7,228.15 367.8,229.01 368.0,227.50 368.2,228.97 368.4,229.26 368.6,230.01 368.8,229.81 368.9,228.92 369.1,228.01 369.3,226.83 369.5,228.71 369.7,230.18 369.9,230.44 370.0,226.11 370.2,227.96 370.4,228.39 370.6,227.68 370.8,228.96 370.9,228.82 371.1,228.26 371.3,228.77 371.5,227.18 371.7,227.84 371.9,227.94 372.0,229.81 372.2,227.22 372.4,228.70 372.6,229.74 372.8,228.90 373.0,229.82 373.1,228.32 373.3,229.47 373.5,229.97 373.7,231.36 373.9,229.83 374.0,230.57 374.2,229.12 374.4,229.23 374.6,230.77 374.8,229.77 375.0,230.65 375.1,229.93 375.3,231.40 375.5,231.69 375.7,228.38 375.9,231.18 376.0,229.72 376.2,229.77 376.4,229.17 376.6,230.04 376.8,228.16 377.0,228.57 377.1,228.54 377.3,229.64 377.5,230.30 377.7,230.12 377.9,229.74 378.1,228.76 378.2,227.56 378.4,229.80 378.6,229.54 378.8,229.76 379.0,230.88 379.1,229.22 379.3,229.20 379.5,227.02 379.7,230.00 379.9,229.37 380.1,228.66 380.2,229.83 380.4,228.35 380.6,228.88 380.8,231.47 381.0,230.22 381.2,230.40 381.3,230.23 381.5,230.12 381.7,229.66 381.9,231.82 382.1,229.39 382.2,230.23 382.4,229.24 382.6,229.11 382.8,226.95 383.0,227.49 383.2,231.08 383.3,231.02 383.5,229.03 383.7,229.45 383.9,230.12 384.1,228.46 384.3,231.32 384.4,228.42 384.6,228.76 384.8,226.65 385.0,231.07 385.2,229.57 385.3,231.19 385.5,228.48 385.7,229.87 385.9,229.60 386.1,229.73 386.3,231.67 386.4,231.87 386.6,230.96 386.8,229.12 387.0,230.46 387.2,230.93 387.4,230.12 387.5,230.14 387.7,230.05 387.9,228.62 388.1,229.81 388.3,231.22 388.4,228.53 388.6,229.65 388.8,230.43 389.0,228.16 389.2,229.43 389.4,227.82 389.5,228.95 389.7,228.13 389.9,228.66 390.1,229.08 390.3,229.30 390.5,229.38 390.6,227.11 390.8,231.24 391.0,229.32 391.2,228.47 391.4,228.95 391.5,229.93 391.7,228.57 391.9,229.18 392.1,229.13 392.3,230.18 392.5,228.85 392.6,230.09 392.8,229.99 393.0,229.48 393.2,230.92 393.4,229.66 393.5,228.42 393.7,229.95 393.9,229.78 394.1,229.61 394.3,229.89 394.5,232.09 394.6,229.90 394.8,230.14 395.0,229.41 395.2,231.03 395.4,229.62 395.6,228.85 395.7,228.42 395.9,230.23 396.1,230.46 396.3,228.05 396.5,228.95 396.6,230.36 396.8,230.76 397.0,228.34 397.2,229.28 397.4,230.57 397.6,229.16 397.7,229.25 397.9,229.16 398.1,228.37 398.3,229.77 398.5,230.04 398.7,228.28 398.8,229.84 399.0,230.88 399.2,229.96 399.4,230.72 399.6,229.18 399.7,231.17 399.9,228.94 400.1,231.71 400.3,229.30 400.5,229.02 400.7,228.84 400.8,229.34 401.0,229.26 401.2,229.06 401.4,229.44 401.6,230.47 401.8,230.70 401.9,229.44 402.1,231.07 402.3,228.76 402.5,228.74 402.7,228.63 402.8,230.43 403.0,228.21 403.2,228.37 403.4,231.14 403.6,231.59 403.8,231.21 403.9,228.28 404.1,229.84 404.3,230.69 404.5,229.93 404.7,228.16 404.9,229.48 405.0,228.08 405.2,228.57 405.4,232.07 405.6,230.55 405.8,228.34 405.9,228.30 406.1,230.33 406.3,229.23 406.5,230.46 406.7,229.20 406.9,229.66 407.0,230.12 407.2,228.81 407.4,227.89 407.6,228.65 407.8,229.16 407.9,229.68 408.1,229.83 408.3,229.83 408.5,230.43 408.7,228.98 408.9,231.35 409.0,231.98 409.2,230.29 409.4,230.11 409.6,231.21 409.8,230.59 410.0,230.12 410.1,229.75 410.3,229.16 410.5,228.72 410.7,230.62 410.9,231.16 411.0,228.85 411.2,229.87 411.4,230.17 411.6,229.51 411.8,229.17 412.0,229.55 412.1,227.92 412.3,229.90 412.5,229.66 412.7,232.16 412.9,230.94 413.1,229.62 413.2,229.97 413.4,231.76 413.6,231.64 413.8,230.18 414.0,229.86 414.1,228.50 414.3,229.66 414.5,229.83 414.7,229.24 414.9,231.80 415.1,228.07 415.2,229.87 415.4,230.44 415.6,230.47 415.8,231.77 416.0,228.58 416.2,229.26 416.3,230.13 416.5,230.17 416.7,229.64 416.9,229.25 417.1,231.16 417.2,228.96 417.4,229.46 417.6,231.54 417.8,231.85 418.0,230.96 418.2,229.18 418.3,229.19 418.5,229.14 418.7,228.90 418.9,229.65 419.1,231.40 419.3,230.31 419.4,229.31 419.6,229.29 419.8,228.88 420.0,231.34 420.2,228.01 420.3,230.38 420.5,228.61 420.7,229.01 420.9,228.57 421.1,231.11 421.3,230.03 421.4,232.95 421.6,229.04 421.8,228.99 422.0,230.73 422.2,230.71 422.3,229.84 422.5,228.04 422.7,231.63 422.9,230.72 423.1,230.55 423.3,229.52 423.4,230.80 423.6,229.56 423.8,230.19 424.0,229.95 424.2,231.45 424.4,229.66 424.5,229.79 424.7,231.30 424.9,230.39 425.1,230.14 425.3,229.91 425.4,231.15 425.6,229.49 425.8,230.66 426.0,232.27 426.2,230.59 426.4,229.36 426.5,228.93 426.7,230.33 426.9,228.91 427.1,228.54 427.3,229.40 427.5,229.06 427.6,231.10 427.8,228.69 428.0,231.83 428.2,229.42 428.4,230.32 428.5,230.90 428.7,230.44 428.9,230.95 429.1,229.19 429.3,227.86 429.5,230.01 429.6,228.48 429.8,229.62 430.0,231.20 430.2,230.02 430.4,229.61 430.6,229.06 430.7,229.93 430.9,230.05 431.1,228.60 431.3,230.54 431.5,229.13 431.6,230.47 431.8,229.78 432.0,231.27 432.2,231.14 432.4,230.26 432.6,230.15 432.7,230.72 432.9,231.70 433.1,231.38 433.3,230.45 433.5,230.62 433.7,231.93 433.8,228.61 434.0,230.87 434.2,229.38 434.4,231.72 434.6,229.82 434.7,230.22 434.9,229.22 435.1,230.36 435.3,231.17 435.5,232.09 435.7,229.06 435.8,229.92 436.0,234.42 436.2,231.36 436.4,230.38 436.6,230.94 436.8,227.64 436.9,232.08 437.1,230.58 437.3,228.93 437.5,231.63 437.7,229.78 437.8,229.37 438.0,230.98 438.2,230.86 438.4,229.97 438.6,230.37 438.8,229.06 438.9,228.96 439.1,231.39 439.3,231.83 439.5,230.91 439.7,230.86 439.8,230.06 440.0,230.34 440.2,229.51 440.4,232.30 440.6,229.90 440.8,230.91 440.9,230.49 441.1,229.05 441.3,232.50 441.5,230.11 441.7,229.71 441.9,230.63 442.0,229.58 442.2,230.55 442.4,229.53 442.6,231.11 442.8,230.58 442.9,229.11 443.1,231.61 443.3,230.74 443.5,229.40 443.7,230.92 443.9,230.99 444.0,232.48 444.2,229.66 444.4,231.45 444.6,230.47 444.8,231.21 445.0,230.30 445.1,230.52 445.3,231.09 445.5,229.35 445.7,228.41 445.9,230.58 446.0,230.13 446.2,230.69 446.4,231.27 446.6,230.38 446.8,231.85 447.0,230.58 447.1,230.74 447.3,231.49 447.5,231.24 447.7,230.55 447.9,230.77 448.1,229.86 448.2,230.02 448.4,230.76 448.6,231.51 448.8,230.21 449.0,231.54 449.1,232.69 449.3,232.91 449.5,230.71 449.7,231.78 449.9,231.33 450.1,231.52 450.2,231.57 450.4,231.25 450.6,231.57 450.8,230.92 451.0,230.46 451.2,230.99 451.3,231.25 451.5,232.01 451.7,231.13 451.9,231.52 452.1,232.23 452.2,229.79 452.4,230.49 452.6,231.32 452.8,230.79 453.0,229.72 453.2,231.79 453.3,230.70 453.5,229.74 453.7,232.74 453.9,229.45 454.1,230.77 454.2,230.09 454.4,230.90 454.6,231.38 454.8,229.95 455.0,230.69 455.2,230.66 455.3,229.76 455.5,232.01 455.7,230.99 455.9,230.51 456.1,230.12 456.3,230.47 456.4,230.97 456.6,230.34" fill="none" stroke="#1f9a8a" stroke-width="1.25" stroke-linejoin="round"/>
<polyline points="456.6,191.04 456.8,189.46 457.0,189.63 457.2,190.41 457.3,189.75 457.5,190.48 457.7,190.23 457.9,190.74 458.1,190.67 458.3,191.03 458.4,190.86 458.6,190.99 458.8,190.68 459.0,190.90 459.2,190.65 459.4,190.19 459.5,189.90 459.7,189.91 459.9,190.60 460.1,189.40 460.3,190.45 460.4,190.06 460.6,190.67 460.8,190.44 461.0,190.04 461.2,190.35 461.4,189.40 461.5,190.45 461.7,190.53 461.9,189.57 462.1,190.70 462.3,190.29 462.5,190.42 462.6,189.77 462.8,190.62 463.0,190.62 463.2,190.39 463.4,190.00 463.5,190.74 463.7,190.96 463.9,190.63 464.1,190.90 464.3,190.26 464.5,190.59 464.6,190.70 464.8,190.63 465.0,191.76 465.2,190.79 465.4,190.41 465.6,191.00 465.7,190.23 465.9,190.86 466.1,191.04 466.3,190.54 466.5,190.63 466.6,190.39 466.8,190.85 467.0,190.54 467.2,191.55 467.4,191.12 467.6,190.77 467.7,190.29 467.9,191.73 468.1,191.44 468.3,191.11 468.5,191.00 468.6,191.00 468.8,190.74 469.0,191.72 469.2,191.04 469.4,190.37 469.6,190.70 469.7,189.91 469.9,191.25 470.1,191.30 470.3,191.73 470.5,191.87 470.7,190.68 470.8,191.20 471.0,191.43 471.2,191.35 471.4,190.81 471.6,191.36 471.7,191.24 471.9,191.60 472.1,191.03 472.3,190.95 472.5,190.84 472.7,190.90 472.8,190.74 473.0,190.92 473.2,191.28 473.4,191.26 473.6,191.62 473.8,191.53 473.9,191.34 474.1,190.61 474.3,191.33 474.5,191.58 474.7,190.56 474.8,190.64 475.0,190.71 475.2,190.68 475.4,190.99 475.6,190.73 475.8,191.28 475.9,190.62 476.1,191.07 476.3,190.92 476.5,190.73 476.7,191.57 476.9,191.15 477.0,191.37 477.2,191.01 477.4,191.44 477.6,191.41 477.8,191.10 477.9,190.43 478.1,191.51 478.3,191.46 478.5,191.25 478.7,191.28 478.9,191.24 479.0,191.27 479.2,190.78 479.4,191.17 479.6,191.33 479.8,190.95 480.0,190.81 480.1,191.98 480.3,191.47 480.5,191.09 480.7,191.02 480.9,190.14 481.0,190.64 481.2,191.13 481.4,191.77 481.6,190.39 481.8,190.96 482.0,192.04 482.1,191.53 482.3,191.43 482.5,191.76 482.7,191.22 482.9,191.20 483.0,191.57 483.2,191.63 483.4,190.84 483.6,191.92 483.8,190.57 484.0,191.00 484.1,192.57 484.3,191.09 484.5,191.57 484.7,190.89 484.9,191.18 485.1,191.02 485.2,191.15 485.4,191.59 485.6,192.05 485.8,191.69 486.0,191.97 486.1,191.12 486.3,191.94 486.5,191.57 486.7,191.91 486.9,191.17 487.1,191.25 487.2,191.92 487.4,191.61 487.6,191.40 487.8,191.08 488.0,191.32 488.2,191.57 488.3,191.67 488.5,191.14 488.7,191.23 488.9,191.55 489.1,190.92 489.2,191.77 489.4,191.38 489.6,191.32 489.8,190.38 490.0,190.72 490.2,190.95 490.3,191.14 490.5,190.93 490.7,191.54 490.9,191.44 491.1,191.28 491.3,190.55 491.4,191.97 491.6,191.28 491.8,191.64 492.0,191.13 492.2,191.40 492.3,191.70 492.5,191.51 492.7,191.81 492.9,191.34 493.1,192.24 493.3,190.64 493.4,191.19 493.6,191.83 493.8,191.32 494.0,191.25 494.2,190.70 494.4,191.93 494.5,190.65 494.7,191.65 494.9,191.52 495.1,191.80 495.3,192.05 495.4,191.16 495.6,191.11 495.8,191.32 496.0,190.74 496.2,191.79 496.4,191.29 496.5,191.52 496.7,190.99 496.9,191.46 497.1,191.20 497.3,191.43 497.5,191.01 497.6,191.89 497.8,191.20 498.0,190.41 498.2,191.74 498.4,191.35 498.5,191.11 498.7,192.51 498.9,191.46 499.1,190.93 499.3,191.23 499.5,191.64 499.6,191.39 499.8,192.00 500.0,191.93 500.2,191.16 500.4,191.51 500.5,191.76 500.7,191.32 500.9,191.31 501.1,191.86 501.3,191.69 501.5,190.92 501.6,191.28 501.8,191.34 502.0,191.46 502.2,191.21 502.4,192.07 502.6,191.11 502.7,191.07 502.9,191.60 503.1,190.59 503.3,191.09 503.5,191.78 503.6,190.98 503.8,191.18 504.0,191.98 504.2,191.72 504.4,191.55 504.6,191.63 504.7,191.25 504.9,191.66 505.1,191.45 505.3,192.57 505.5,191.76 505.7,191.40 505.8,191.52 506.0,191.57 506.2,190.98 506.4,191.21 506.6,192.18 506.7,190.97 506.9,191.31 507.1,191.98 507.3,192.18 507.5,191.14 507.7,192.17 507.8,191.41 508.0,192.25 508.2,191.77 508.4,191.45 508.6,191.87 508.8,191.80 508.9,191.25 509.1,192.46 509.3,191.43 509.5,192.05 509.7,191.38 509.8,190.82 510.0,191.11 510.2,191.54 510.4,191.86 510.6,192.31 510.8,191.62 510.9,191.47 511.1,191.08 511.3,191.57 511.5,191.71 511.7,190.67 511.9,192.13 512.0,192.06 512.2,192.53 512.4,191.21 512.6,191.61 512.8,191.60 512.9,191.04 513.1,191.24 513.3,191.18 513.5,191.80 513.7,191.77 513.9,192.15 514.0,191.43 514.2,191.01 514.4,191.78 514.6,191.75 514.8,191.87 514.9,192.11 515.1,191.35 515.3,191.93 515.5,191.18 515.7,191.66 515.9,191.88 516.0,191.55 516.2,191.69 516.4,191.02 516.6,191.33 516.8,191.66 517.0,191.10 517.1,191.24 517.3,192.61 517.5,191.70 517.7,191.26 517.9,191.17 518.0,192.17 518.2,190.43 518.4,191.44 518.6,191.83 518.8,191.34 519.0,191.78 519.1,191.13 519.3,191.56 519.5,191.58 519.7,191.57 519.9,191.62 520.1,191.58 520.2,192.02 520.4,191.45 520.6,191.31 520.8,191.44 521.0,191.43 521.1,190.93 521.3,190.76 521.5,190.99 521.7,191.67 521.9,191.28 522.1,191.38 522.2,192.74 522.4,192.02 522.6,191.46 522.8,191.29 523.0,192.12 523.2,191.23 523.3,192.06 523.5,191.79 523.7,192.12 523.9,191.25 524.1,191.92 524.2,190.80 524.4,191.48 524.6,191.99 524.8,191.83 525.0,190.79 525.2,191.83 525.3,191.73 525.5,191.52 525.7,191.24 525.9,191.42 526.1,191.30 526.3,191.93 526.4,191.73 526.6,191.98 526.8,191.82 527.0,191.01 527.2,191.59 527.3,192.42 527.5,191.08 527.7,191.65 527.9,191.21 528.1,191.16 528.3,191.62 528.4,191.91 528.6,191.85 528.8,191.72 529.0,191.92 529.2,190.85 529.3,191.86 529.5,191.69 529.7,191.45 529.9,191.52 530.1,191.17 530.3,192.00 530.4,191.21 530.6,190.91 530.8,191.51 531.0,191.28 531.2,191.49 531.4,192.14 531.5,191.46 531.7,191.56 531.9,192.45 532.1,190.93 532.3,191.66 532.4,191.99 532.6,192.13 532.8,192.44 533.0,191.23 533.2,191.76 533.4,191.46 533.5,191.31 533.7,191.20 533.9,190.89 534.1,191.64 534.3,191.81 534.5,191.06 534.6,191.81 534.8,191.26 535.0,191.07 535.2,190.40 535.4,191.95 535.5,191.79 535.7,191.36 535.9,191.32 536.1,190.94 536.3,191.70 536.5,191.45 536.6,191.70 536.8,191.55 537.0,190.89 537.2,190.83 537.4,191.65 537.6,190.77 537.7,191.59 537.9,191.85 538.1,190.94 538.3,191.75 538.5,191.49 538.6,191.69 538.8,191.21 539.0,191.46 539.2,191.65 539.4,192.23 539.6,191.78 539.7,191.68 539.9,190.93 540.1,191.61 540.3,191.18 540.5,191.44 540.7,191.58 540.8,191.87 541.0,191.71 541.2,191.54 541.4,191.44 541.6,192.02 541.7,191.09 541.9,191.47 542.1,192.03 542.3,191.37 542.5,191.80 542.7,191.82 542.8,192.27 543.0,191.92 543.2,190.76 543.4,191.44 543.6,191.56 543.7,191.78 543.9,191.59 544.1,192.21 544.3,191.88 544.5,190.93 544.7,191.15 544.8,190.55 545.0,192.13 545.2,191.35 545.4,191.34 545.6,190.73 545.8,191.20 545.9,191.56 546.1,191.21 546.3,191.20 546.5,191.10 546.7,192.19 546.8,191.12 547.0,190.74 547.2,191.13 547.4,191.19 547.6,191.29 547.8,191.22 547.9,190.85 548.1,191.23 548.3,191.48 548.5,190.72 548.7,192.13 548.9,192.01 549.0,190.54 549.2,191.14 549.4,191.72 549.6,191.85 549.8,192.04 549.9,190.51 550.1,190.82 550.3,191.06 550.5,191.51 550.7,190.82 550.9,191.45 551.0,191.46 551.2,191.57" fill="none" stroke="#4ec36b" stroke-width="1.25" stroke-linejoin="round"/>
<polyline points="551.2,158.71 551.4,159.65 551.6,159.57 551.8,159.27 552.0,160.35 552.1,159.35 552.3,160.45 552.5,159.17 552.7,160.62 552.9,160.59 553.0,159.03 553.2,159.77 553.4,159.75 553.6,158.94 553.8,160.06 554.0,159.94 554.1,159.02 554.3,159.63 554.5,160.13 554.7,159.47 554.9,159.13 555.1,160.61 555.2,158.96 555.4,159.80 555.6,160.30 555.8,160.09 556.0,158.43 556.1,159.39 556.3,159.52 556.5,159.47 556.7,160.00 556.9,159.95 557.1,159.69 557.2,159.78 557.4,160.25 557.6,160.41 557.8,158.43 558.0,161.00 558.2,159.28 558.3,160.12 558.5,158.60 558.7,159.31 558.9,158.84 559.1,160.32 559.2,160.19 559.4,159.64 559.6,159.53 559.8,159.88 560.0,159.05 560.2,159.26 560.3,159.16 560.5,160.16 560.7,159.66 560.9,158.84 561.1,159.86 561.2,159.98 561.4,160.52 561.6,159.29 561.8,159.90 562.0,160.96 562.2,159.44 562.3,159.42 562.5,159.97 562.7,159.33 562.9,159.65 563.1,159.33 563.3,159.15 563.4,160.20 563.6,159.41 563.8,159.01 564.0,159.47 564.2,159.56 564.3,159.84 564.5,160.24 564.7,160.76 564.9,158.88 565.1,159.49 565.3,158.50 565.4,159.78 565.6,159.97 565.8,159.23 566.0,159.07 566.2,159.02 566.4,158.70 566.5,160.03 566.7,160.84 566.9,158.92 567.1,160.66 567.3,159.56 567.4,158.76 567.6,159.98 567.8,160.11 568.0,159.88 568.2,159.46 568.4,160.68 568.5,159.45 568.7,160.03 568.9,160.03 569.1,159.06 569.3,158.46 569.5,158.54 569.6,159.37 569.8,159.85 570.0,158.50 570.2,159.17 570.4,160.59 570.5,158.49 570.7,159.91 570.9,159.84 571.1,160.12 571.3,158.69 571.5,159.83 571.6,158.74 571.8,160.46 572.0,159.07 572.2,159.86 572.4,159.11 572.6,159.70 572.7,158.65 572.9,159.80 573.1,160.00 573.3,159.61 573.5,160.63 573.6,159.85 573.8,160.11 574.0,159.94 574.2,160.80 574.4,159.21 574.6,159.45 574.7,159.48 574.9,160.01 575.1,159.79 575.3,160.15 575.5,159.81 575.6,159.30 575.8,159.59 576.0,159.91 576.2,158.19 576.4,160.51 576.6,159.28 576.7,159.41 576.9,159.80 577.1,159.48 577.3,158.73 577.5,159.50 577.7,160.52 577.8,160.31 578.0,160.43 578.2,159.30 578.4,159.52 578.6,160.32 578.7,160.59 578.9,159.68 579.1,159.05 579.3,158.44 579.5,160.56 579.7,158.70 579.8,159.94 580.0,160.24 580.2,161.74 580.4,159.80 580.6,159.61 580.8,159.97 580.9,160.01 581.1,160.54 581.3,160.12 581.5,159.20 581.7,158.35 581.8,159.88 582.0,159.26 582.2,160.59 582.4,158.86 582.6,159.82 582.8,159.23 582.9,159.14 583.1,160.76 583.3,159.81 583.5,159.58 583.7,160.17 583.9,159.20 584.0,159.47 584.2,159.29 584.4,160.97 584.6,159.91 584.8,160.11 584.9,160.42 585.1,159.58 585.3,159.61 585.5,158.66 585.7,160.01 585.9,159.87 586.0,159.44 586.2,160.48 586.4,158.56 586.6,159.97 586.8,158.82 587.0,158.97 587.1,159.57 587.3,160.56 587.5,158.94 587.7,159.07 587.9,158.93 588.0,161.00 588.2,160.04 588.4,159.97 588.6,161.04 588.8,159.87 589.0,158.36 589.1,159.39 589.3,158.94 589.5,161.01 589.7,158.80 589.9,159.91 590.0,159.38 590.2,159.43 590.4,159.73 590.6,159.63 590.8,159.27 591.0,158.92 591.1,159.29 591.3,159.04 591.5,159.13 591.7,159.79 591.9,159.61 592.1,160.02 592.2,159.56 592.4,160.95 592.6,159.24 592.8,159.07 593.0,160.37 593.1,159.26 593.3,159.79 593.5,160.35 593.7,159.65 593.9,159.49 594.1,160.34 594.2,159.93 594.4,159.37 594.6,158.94 594.8,159.47 595.0,158.65 595.2,159.15 595.3,159.01 595.5,159.91 595.7,160.21 595.9,159.30 596.1,159.43 596.2,159.01 596.4,158.82 596.6,159.44 596.8,160.08 597.0,160.02 597.2,160.10 597.3,159.54 597.5,157.96 597.7,160.32 597.9,160.57 598.1,160.31 598.3,160.30 598.4,160.43 598.6,161.45 598.8,159.93 599.0,160.73 599.2,160.25 599.3,160.17 599.5,159.65 599.7,159.51 599.9,159.01 600.1,160.11 600.3,159.53 600.4,158.96 600.6,159.24 600.8,158.97 601.0,160.77 601.2,159.58 601.4,159.81 601.5,158.96 601.7,159.07 601.9,160.41 602.1,159.59 602.3,159.88 602.4,160.92 602.6,161.09 602.8,160.18 603.0,160.05 603.2,159.89 603.4,159.56 603.5,161.05 603.7,158.96 603.9,159.69 604.1,158.50 604.3,158.93 604.5,160.00 604.6,160.04 604.8,159.96 605.0,159.54 605.2,159.29 605.4,159.40 605.5,159.50 605.7,160.45 605.9,160.69 606.1,160.03 606.3,159.40 606.5,159.15 606.6,159.95 606.8,159.60 607.0,158.57 607.2,160.63 607.4,159.75 607.5,159.55 607.7,159.19 607.9,159.19 608.1,160.33 608.3,159.14 608.5,159.82 608.6,160.16 608.8,160.94 609.0,160.14 609.2,159.73 609.4,159.47 609.6,160.31 609.7,160.40 609.9,159.48 610.1,160.14 610.3,159.67 610.5,158.71 610.6,159.11 610.8,160.28 611.0,160.69 611.2,160.20 611.4,159.63 611.6,159.30 611.7,160.11 611.9,159.97 612.1,158.72 612.3,160.18 612.5,159.31 612.7,160.20 612.8,160.11 613.0,160.23 613.2,160.45 613.4,160.22 613.6,159.09 613.7,159.11 613.9,160.44 614.1,160.07 614.3,158.75 614.5,158.47 614.7,160.34 614.8,161.20 615.0,160.30 615.2,159.62 615.4,159.94 615.6,158.01 615.8,159.13 615.9,160.42 616.1,160.33 616.3,158.40 616.5,160.53 616.7,160.12 616.8,160.38 617.0,159.64 617.2,159.78 617.4,159.08 617.6,159.98 617.8,160.35 617.9,159.17 618.1,160.01 618.3,159.43 618.5,160.45 618.7,160.41 618.9,158.26 619.0,160.07 619.2,160.43 619.4,159.42 619.6,159.64 619.8,159.68 619.9,159.04 620.1,159.71 620.3,160.78 620.5,160.09 620.7,160.76 620.9,160.42 621.0,160.56 621.2,159.86 621.4,160.28 621.6,161.08 621.8,160.73 621.9,159.99 622.1,159.33 622.3,159.19 622.5,159.94 622.7,160.07 622.9,158.60 623.0,159.93 623.2,160.01 623.4,159.98 623.6,159.43 623.8,161.27 624.0,160.35 624.1,158.90 624.3,159.33 624.5,160.30 624.7,160.12 624.9,159.87 625.0,159.77 625.2,159.65 625.4,159.50 625.6,159.12 625.8,160.15 626.0,157.99 626.1,159.31 626.3,160.58 626.5,159.27 626.7,159.01 626.9,161.00 627.1,160.44 627.2,159.68 627.4,159.40 627.6,159.62 627.8,159.55 628.0,159.62 628.1,159.30 628.3,160.12 628.5,159.41 628.7,158.60 628.9,158.94 629.1,159.77 629.2,159.11 629.4,158.17 629.6,160.73 629.8,160.08 630.0,159.46 630.2,159.43 630.3,160.09 630.5,160.64 630.7,159.36 630.9,160.02 631.1,159.36 631.2,159.97 631.4,159.03 631.6,158.58 631.8,159.81 632.0,159.72 632.2,160.22 632.3,159.33 632.5,160.64 632.7,159.82 632.9,160.75 633.1,159.54 633.3,160.73 633.4,159.72 633.6,159.85 633.8,160.38 634.0,158.63 634.2,159.08 634.3,160.94 634.5,158.79 634.7,159.44 634.9,160.11 635.1,160.70 635.3,159.44 635.4,159.85 635.6,159.04 635.8,159.52 636.0,160.43 636.2,159.98 636.3,159.75 636.5,160.04 636.7,159.86 636.9,159.88 637.1,159.55 637.3,159.15 637.4,160.21 637.6,159.04 637.8,160.43 638.0,161.15 638.2,160.75 638.4,161.27 638.5,159.12 638.7,159.94 638.9,159.25 639.1,159.31 639.3,158.69 639.4,159.01 639.6,160.34 639.8,160.24 640.0,160.57 640.2,160.52 640.4,160.30 640.5,159.28 640.7,159.73 640.9,160.27 641.1,160.61 641.3,159.57 641.5,159.49 641.6,159.53 641.8,160.83 642.0,160.18 642.2,159.61 642.4,159.32 642.5,160.10 642.7,158.74 642.9,159.67 643.1,159.46 643.3,159.45 643.5,159.95 643.6,160.09 643.8,161.77 644.0,159.89 644.2,160.27 644.4,159.31 644.6,158.77 644.7,160.56 644.9,161.09 645.1,159.20 645.3,159.79 645.5,160.55 645.6,159.90 645.8,158.31" fill="none" stroke="#bddf26" stroke-width="1.25" stroke-linejoin="round"/>
<text x="125.50" y="372.46" font-size="8.21" fill="#440154" text-anchor="middle" font-weight="bold" stroke="#440154" stroke-width="0.27" textLength="104.02" lengthAdjust="spacingAndGlyphs">Source current: 5.71mA</text>
<text y="380.86" font-size="8.21" fill="#440154"><tspan x="100.92" font-style="italic" textLength="4.93" lengthAdjust="spacingAndGlyphs">μ</tspan><tspan x="105.85" font-weight="bold" stroke="#440154" stroke-width="0.27" textLength="44.24" lengthAdjust="spacingAndGlyphs">:11.12mW</tspan></text>
<text y="389.36" font-size="8.21" fill="#440154"><tspan x="103.62" font-style="italic" textLength="4.91" lengthAdjust="spacingAndGlyphs">σ</tspan><tspan x="108.54" font-weight="bold" stroke="#440154" stroke-width="0.27" textLength="38.85" lengthAdjust="spacingAndGlyphs">:0.01mW</tspan></text>
<text x="220.11" y="345.73" font-size="8.21" fill="#433e85" text-anchor="middle" font-weight="bold" stroke="#433e85" stroke-width="0.27" textLength="104.02" lengthAdjust="spacingAndGlyphs">Source current: 6.86mA</text>
<text y="354.13" font-size="8.21" fill="#433e85"><tspan x="195.52" font-style="italic" textLength="4.93" lengthAdjust="spacingAndGlyphs">μ</tspan><tspan x="200.45" font-weight="bold" stroke="#433e85" stroke-width="0.27" textLength="44.24" lengthAdjust="spacingAndGlyphs">:14.23mW</tspan></text>
<text y="362.53" font-size="8.21" fill="#433e85"><tspan x="198.23" font-style="italic" textLength="4.91" lengthAdjust="spacingAndGlyphs">σ</tspan><tspan x="203.14" font-weight="bold" stroke="#433e85" stroke-width="0.27" textLength="38.85" lengthAdjust="spacingAndGlyphs">:0.01mW</tspan></text>
<text x="314.71" y="284.93" font-size="8.21" fill="#2e6f8e" text-anchor="middle" font-weight="bold" stroke="#2e6f8e" stroke-width="0.27" textLength="98.63" lengthAdjust="spacingAndGlyphs">Source current: 8.0mA</text>
<text y="293.33" font-size="8.21" fill="#2e6f8e"><tspan x="290.13" font-style="italic" textLength="4.93" lengthAdjust="spacingAndGlyphs">μ</tspan><tspan x="295.06" font-weight="bold" stroke="#2e6f8e" stroke-width="0.27" textLength="44.24" lengthAdjust="spacingAndGlyphs">:17.16mW</tspan></text>
<text y="301.73" font-size="8.21" fill="#2e6f8e"><tspan x="292.83" font-style="italic" textLength="4.91" lengthAdjust="spacingAndGlyphs">σ</tspan><tspan x="297.75" font-weight="bold" stroke="#2e6f8e" stroke-width="0.27" textLength="38.85" lengthAdjust="spacingAndGlyphs">:0.03mW</tspan></text>
<text x="409.32" y="244.67" font-size="8.21" fill="#1f9a8a" text-anchor="middle" font-weight="bold" stroke="#1f9a8a" stroke-width="0.27" textLength="104.02" lengthAdjust="spacingAndGlyphs">Source current: 9.14mA</text>
<text y="253.07" font-size="8.21" fill="#1f9a8a"><tspan x="387.43" font-style="italic" textLength="4.93" lengthAdjust="spacingAndGlyphs">μ</tspan><tspan x="392.36" font-weight="bold" stroke="#1f9a8a" stroke-width="0.27" textLength="38.85" lengthAdjust="spacingAndGlyphs">:19.1mW</tspan></text>
<text y="261.47" font-size="8.21" fill="#1f9a8a"><tspan x="387.44" font-style="italic" textLength="4.91" lengthAdjust="spacingAndGlyphs">σ</tspan><tspan x="392.35" font-weight="bold" stroke="#1f9a8a" stroke-width="0.27" textLength="38.85" lengthAdjust="spacingAndGlyphs">:0.05mW</tspan></text>
<text x="503.92" y="205.04" font-size="8.21" fill="#4ec36b" text-anchor="middle" font-weight="bold" stroke="#4ec36b" stroke-width="0.27" textLength="109.41" lengthAdjust="spacingAndGlyphs">Source current: 10.29mA</text>
<text y="213.44" font-size="8.21" fill="#4ec36b"><tspan x="479.34" font-style="italic" textLength="4.93" lengthAdjust="spacingAndGlyphs">μ</tspan><tspan x="484.27" font-weight="bold" stroke="#4ec36b" stroke-width="0.27" textLength="44.24" lengthAdjust="spacingAndGlyphs">:21.01mW</tspan></text>
<text y="221.84" font-size="8.21" fill="#4ec36b"><tspan x="482.04" font-style="italic" textLength="4.91" lengthAdjust="spacingAndGlyphs">σ</tspan><tspan x="486.95" font-weight="bold" stroke="#4ec36b" stroke-width="0.27" textLength="38.85" lengthAdjust="spacingAndGlyphs">:0.02mW</tspan></text>
<text x="598.53" y="174.33" font-size="8.21" fill="#bddf26" text-anchor="middle" font-weight="bold" stroke="#bddf26" stroke-width="0.27" textLength="109.41" lengthAdjust="spacingAndGlyphs">Source current: 11.43mA</text>
<text y="182.73" font-size="8.21" fill="#bddf26"><tspan x="573.94" font-style="italic" textLength="4.93" lengthAdjust="spacingAndGlyphs">μ</tspan><tspan x="578.87" font-weight="bold" stroke="#bddf26" stroke-width="0.27" textLength="44.24" lengthAdjust="spacingAndGlyphs">:22.49mW</tspan></text>
<text y="191.13" font-size="8.21" fill="#bddf26"><tspan x="576.65" font-style="italic" textLength="4.91" lengthAdjust="spacingAndGlyphs">σ</tspan><tspan x="581.56" font-weight="bold" stroke="#bddf26" stroke-width="0.27" textLength="38.85" lengthAdjust="spacingAndGlyphs">:0.03mW</tspan></text>
<rect x="49.5" y="146.5" width="625.0" height="262.6" fill="none" stroke="#5a5a5a" stroke-width="1.0"/>
<text x="78.20" y="421.20" font-size="10.07" fill="#000" text-anchor="middle" stroke="#000" stroke-width="0.21" textLength="6.04" lengthAdjust="spacingAndGlyphs">0</text>
<text x="161.81" y="421.20" font-size="10.07" fill="#000" text-anchor="middle" stroke="#000" stroke-width="0.21" textLength="6.04" lengthAdjust="spacingAndGlyphs">1</text>
<text x="245.42" y="421.20" font-size="10.07" fill="#000" text-anchor="middle" stroke="#000" stroke-width="0.21" textLength="6.04" lengthAdjust="spacingAndGlyphs">2</text>
<text x="329.03" y="421.20" font-size="10.07" fill="#000" text-anchor="middle" stroke="#000" stroke-width="0.21" textLength="6.04" lengthAdjust="spacingAndGlyphs">3</text>
<text x="412.64" y="421.20" font-size="10.07" fill="#000" text-anchor="middle" stroke="#000" stroke-width="0.21" textLength="6.04" lengthAdjust="spacingAndGlyphs">4</text>
<text x="496.25" y="421.20" font-size="10.07" fill="#000" text-anchor="middle" stroke="#000" stroke-width="0.21" textLength="6.04" lengthAdjust="spacingAndGlyphs">5</text>
<text x="579.86" y="421.20" font-size="10.07" fill="#000" text-anchor="middle" stroke="#000" stroke-width="0.21" textLength="6.04" lengthAdjust="spacingAndGlyphs">6</text>
<text x="663.47" y="421.20" font-size="10.07" fill="#000" text-anchor="middle" stroke="#000" stroke-width="0.21" textLength="6.04" lengthAdjust="spacingAndGlyphs">7</text>
<text x="45.00" y="380.90" font-size="10.07" fill="#000" text-anchor="end" stroke="#000" stroke-width="0.21" textLength="12.09" lengthAdjust="spacingAndGlyphs">12</text>
<text x="45.00" y="339.54" font-size="10.07" fill="#000" text-anchor="end" stroke="#000" stroke-width="0.21" textLength="12.09" lengthAdjust="spacingAndGlyphs">14</text>
<text x="45.00" y="298.18" font-size="10.07" fill="#000" text-anchor="end" stroke="#000" stroke-width="0.21" textLength="12.09" lengthAdjust="spacingAndGlyphs">16</text>
<text x="45.00" y="256.82" font-size="10.07" fill="#000" text-anchor="end" stroke="#000" stroke-width="0.21" textLength="12.09" lengthAdjust="spacingAndGlyphs">18</text>
<text x="45.00" y="215.46" font-size="10.07" fill="#000" text-anchor="end" stroke="#000" stroke-width="0.21" textLength="12.09" lengthAdjust="spacingAndGlyphs">20</text>
<text x="45.00" y="174.10" font-size="10.07" fill="#000" text-anchor="end" stroke="#000" stroke-width="0.21" textLength="12.09" lengthAdjust="spacingAndGlyphs">22</text>
<path d="M78.20,409.10v2.8M161.81,409.10v2.8M245.42,409.10v2.8M329.03,409.10v2.8M412.64,409.10v2.8M496.25,409.10v2.8M579.86,409.10v2.8M663.47,409.10v2.8M49.50,377.40h-2.6M49.50,336.04h-2.6M49.50,294.68h-2.6M49.50,253.32h-2.6M49.50,211.96h-2.6M49.50,170.60h-2.6" stroke="#333" stroke-width="0.8"/>
<text x="361.80" y="434.20" font-size="11.66" fill="#000" text-anchor="middle" stroke="#000" stroke-width="0.24" textLength="71.23" lengthAdjust="spacingAndGlyphs">Time (Hours)</text>
<text x="28.30" y="277.20" font-size="11.66" fill="#000" text-anchor="middle" stroke="#000" stroke-width="0.24" textLength="66.93" lengthAdjust="spacingAndGlyphs" transform="rotate(-90 28.30 277.20)">Power [mW]</text>
</svg>
</body></html>
